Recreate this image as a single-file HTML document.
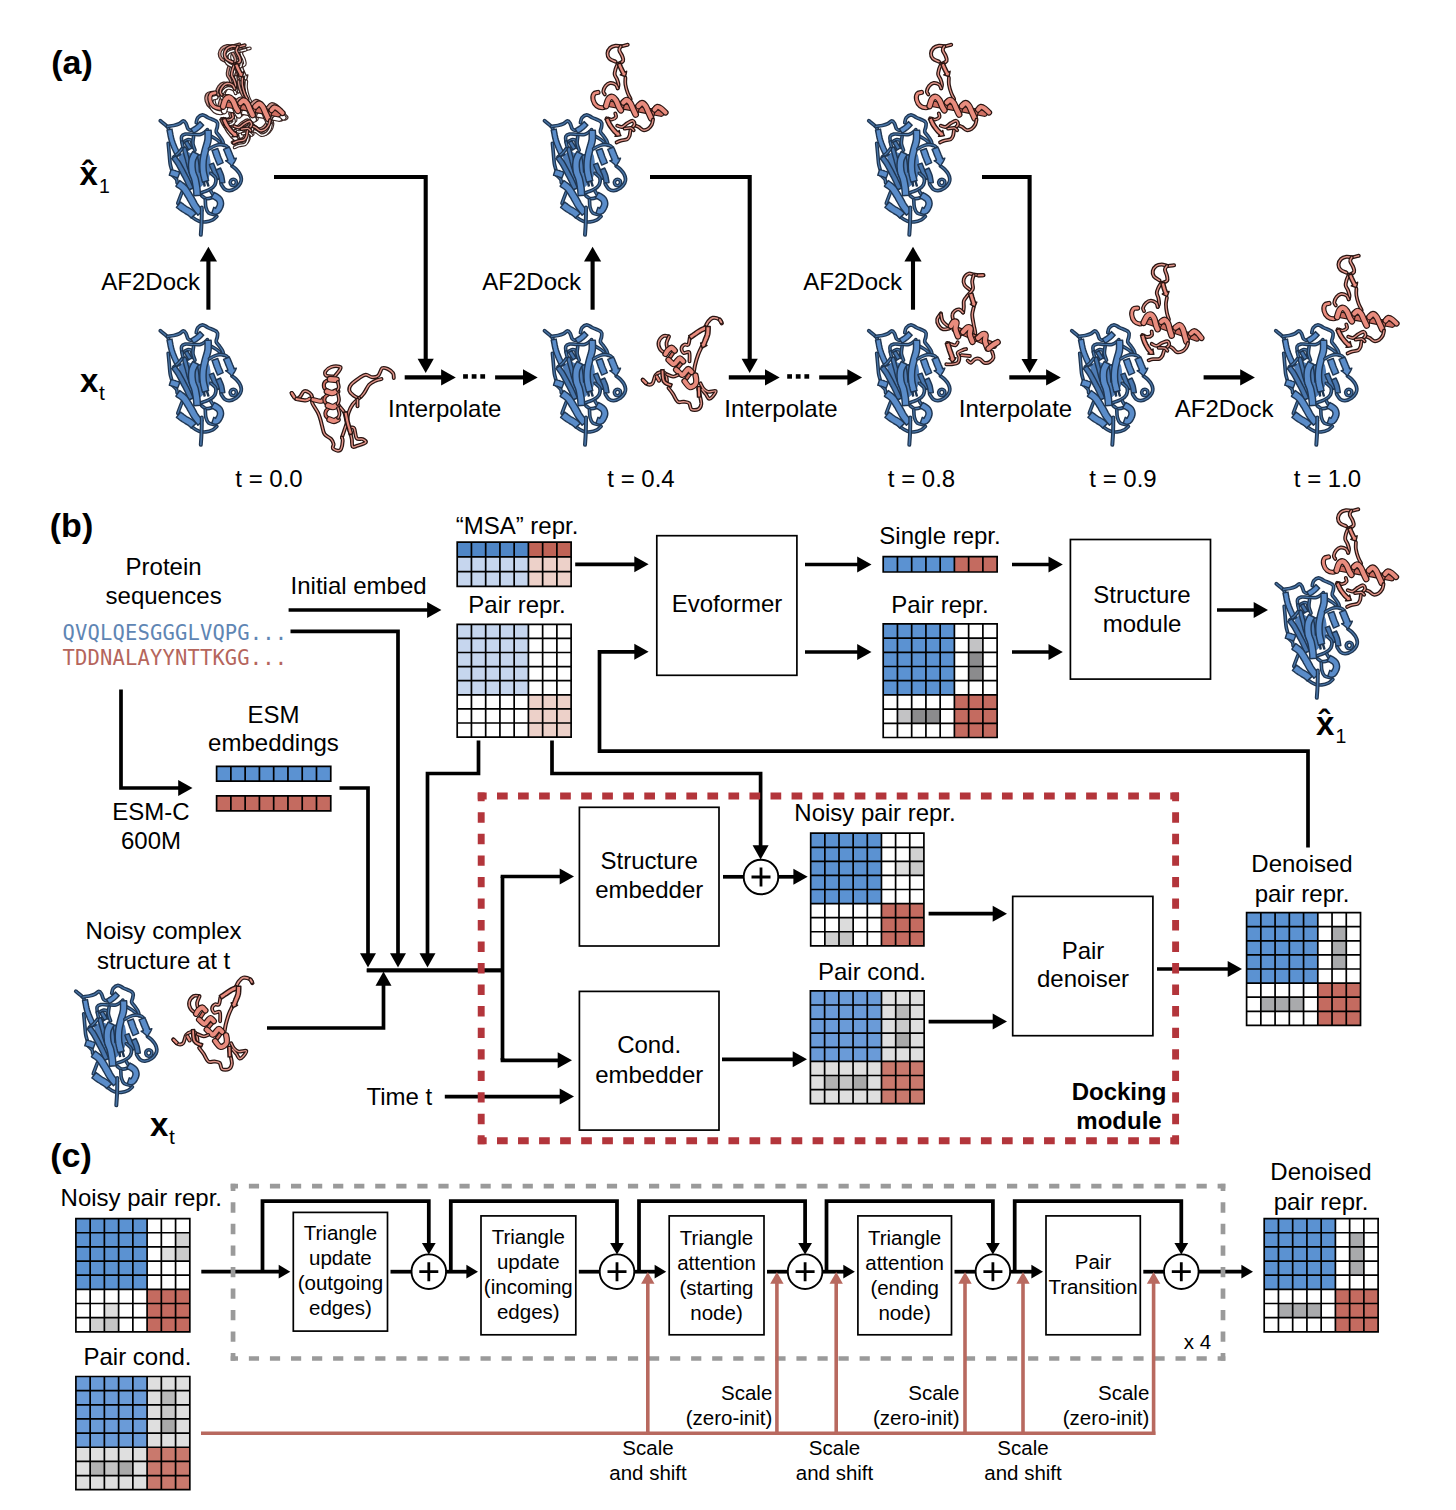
<!DOCTYPE html>
<html lang="en"><head><meta charset="utf-8"><title>AF2Dock overview</title>
<style>html,body{margin:0;padding:0;background:#fff}svg{display:block}</style></head><body>
<svg width="1456" height="1510" viewBox="0 0 1456 1510" font-family="'Liberation Sans', sans-serif" fill="#000">
<rect width="1456" height="1510" fill="#fff"/>
<defs>
<g id="pb" fill="none" stroke-linecap="round" stroke-linejoin="round"><path d="M28.0 50.0C29.0 49.3 32.0 46.3 34.0 46.0C36.0 45.7 37.8 47.3 40.0 48.0C42.2 48.7 44.7 50.3 47.0 50.0C49.3 49.7 52.2 46.0 54.0 46.0C55.8 46.0 57.2 47.3 58.0 50.0C58.8 52.7 59.2 58.3 59.0 62.0C58.8 65.7 58.5 69.0 57.0 72.0C55.5 75.0 52.2 78.0 50.0 80.0C47.8 82.0 46.0 84.7 44.0 84.0C42.0 83.3 40.0 79.3 38.0 76.0C36.0 72.7 33.0 66.0 32.0 64.0Z" fill="#4f7db6" stroke="#4f7db6" stroke-width="1.2"/><path d="M9.3 14.7C10.5 15.7 15.0 19.1 16.5 20.9C18.0 22.7 17.9 23.9 18.5 25.7C19.1 27.5 19.7 30.8 19.9 31.8" stroke="#1f3652" stroke-width="3.8"/><path d="M9.3 14.7C10.5 15.7 15.0 19.1 16.5 20.9C18.0 22.7 17.9 23.9 18.5 25.7C19.1 27.5 19.7 30.8 19.9 31.8" stroke="#4a76a8" stroke-width="1.3"/><path d="M17.2 37.3C17.4 39.0 17.9 44.2 18.2 47.6C18.5 51.0 18.8 55.3 19.2 57.9C19.6 60.5 20.4 62.5 20.6 63.4" stroke="#1f3652" stroke-width="3.7"/><path d="M17.2 37.3C17.4 39.0 17.9 44.2 18.2 47.6C18.5 51.0 18.8 55.3 19.2 57.9C19.6 60.5 20.4 62.5 20.6 63.4" stroke="#4a76a8" stroke-width="1.2"/><path d="M30.9 36.0C30.8 35.1 30.0 31.8 30.6 30.5C31.2 29.2 32.5 28.5 34.3 28.1C36.1 27.8 38.7 28.3 41.2 28.4C43.7 28.4 47.3 28.8 49.5 28.4C51.7 27.9 53.2 26.5 54.3 25.7C55.4 24.9 56.0 24.0 56.3 23.6" stroke="#1f3652" stroke-width="3.7"/><path d="M30.9 36.0C30.8 35.1 30.0 31.8 30.6 30.5C31.2 29.2 32.5 28.5 34.3 28.1C36.1 27.8 38.7 28.3 41.2 28.4C43.7 28.4 47.3 28.8 49.5 28.4C51.7 27.9 53.2 26.5 54.3 25.7C55.4 24.9 56.0 24.0 56.3 23.6" stroke="#4a76a8" stroke-width="1.2"/><path d="M30.9 36.0C31.1 36.9 31.5 40.1 32.3 41.5C33.1 42.9 35.1 43.8 35.7 44.2" stroke="#1f3652" stroke-width="3.7"/><path d="M30.9 36.0C31.1 36.9 31.5 40.1 32.3 41.5C33.1 42.9 35.1 43.8 35.7 44.2" stroke="#4a76a8" stroke-width="1.2"/><path d="M33.7 35.3C34.3 35.0 36.0 33.7 37.1 33.6C38.2 33.5 39.8 33.3 40.5 34.6C41.2 35.9 41.1 40.4 41.2 41.5" stroke="#1f3652" stroke-width="3.7"/><path d="M33.7 35.3C34.3 35.0 36.0 33.7 37.1 33.6C38.2 33.5 39.8 33.3 40.5 34.6C41.2 35.9 41.1 40.4 41.2 41.5" stroke="#4a76a8" stroke-width="1.2"/><path d="M42.6 30.5C42.5 31.6 41.7 35.0 41.9 37.3C42.1 39.6 43.6 43.1 44.0 44.2" stroke="#1f3652" stroke-width="3.7"/><path d="M42.6 30.5C42.5 31.6 41.7 35.0 41.9 37.3C42.1 39.6 43.6 43.1 44.0 44.2" stroke="#4a76a8" stroke-width="1.2"/><path d="M60.4 30.5C61.2 30.9 63.8 32.3 65.2 33.2C66.6 34.1 68.1 35.5 68.7 36.0" stroke="#1f3652" stroke-width="3.7"/><path d="M60.4 30.5C61.2 30.9 63.8 32.3 65.2 33.2C66.6 34.1 68.1 35.5 68.7 36.0" stroke="#4a76a8" stroke-width="1.2"/><path d="M31.1 42.0L31.5 43.3L32.0 45.1L32.6 47.3L33.2 49.5L33.8 51.6L34.4 53.6L34.9 55.7L35.5 57.9L36.0 60.0L36.6 62.0L37.3 64.0L38.0 66.0L38.7 67.9L39.3 69.5L39.7 70.7L43.3 69.3L42.9 68.2L42.3 66.6L41.7 64.7L41.0 62.7L40.4 60.8L39.8 58.9L39.2 56.9L38.7 54.8L38.1 52.6L37.6 50.6L37.0 48.5L36.4 46.2L35.8 44.1L35.2 42.3L34.9 41.0Z" fill="#4876ae" stroke="#1f3652" stroke-width="1.45"/><path d="M46.4 49.3L46.6 50.5L46.9 52.2L47.3 54.2L47.6 56.3L47.8 58.1L48.0 59.9L48.1 61.7L48.2 63.5L48.3 65.0L48.4 66.1L51.8 65.9L51.7 64.8L51.6 63.3L51.5 61.5L51.4 59.6L51.2 57.7L50.9 55.8L50.6 53.7L50.3 51.7L50.0 49.9L49.8 48.7Z" fill="#4876ae" stroke="#1f3652" stroke-width="1.45"/><path d="M60.4 57.9L60.7 58.8L61.2 60.1L61.8 61.6L62.5 63.2L63.2 64.8L63.9 66.6L64.8 68.5L65.6 70.5L66.5 72.1L67.3 73.0L68.0 73.1L68.7 72.5L69.3 71.5L69.8 70.5L70.1 69.9L70.1 69.9L69.7 70.5L69.2 71.4L68.6 72.4L68.0 73.0L67.3 73.0L66.6 72.0L65.7 70.4L64.9 68.5L64.0 66.5L63.2 64.8L62.6 63.2L61.9 61.6L61.3 60.1L60.8 58.8L60.4 57.9Z" fill="#4876ae" stroke="#1f3652" stroke-width="1.45"/><path d="M16.0 24.1L16.3 25.5L16.7 27.5L17.1 29.9L17.6 32.3L18.2 34.6L18.8 36.6L19.5 38.5L20.3 40.4L21.0 42.2L21.7 43.8L22.5 45.5L23.3 47.2L24.1 48.7L24.8 50.0L25.3 50.9L29.7 48.5L29.2 47.6L28.6 46.4L27.8 44.9L27.0 43.3L26.3 41.8L25.6 40.2L24.9 38.5L24.2 36.8L23.6 35.0L23.0 33.2L22.5 31.2L22.0 28.9L21.6 26.6L21.2 24.6L21.0 23.1Z" fill="#5a8cc9" stroke="#1f3652" stroke-width="1.45"/><path d="M33.3 36.7L37.7 43.9L40.9 41.9L36.5 34.7Z" fill="#4876ae" stroke="#1f3652" stroke-width="1.45"/><path d="M22.7 51.1C23.5 50.4 26.1 48.4 27.5 47.0C28.9 45.6 30.3 43.5 30.9 42.8" stroke="#1f3652" stroke-width="3.7"/><path d="M22.7 51.1C23.5 50.4 26.1 48.4 27.5 47.0C28.9 45.6 30.3 43.5 30.9 42.8" stroke="#4a76a8" stroke-width="1.2"/><path d="M20.7 52.6L21.4 53.4L22.3 54.6L23.3 56.0L24.4 57.6L25.4 59.2L26.4 61.0L27.6 63.1L28.7 65.3L29.8 67.4L30.8 69.3L31.7 70.9L32.4 72.3L33.0 73.5L33.6 74.7L34.3 76.0L35.0 77.7L35.8 79.5L36.6 81.3L37.3 82.9L37.7 84.0L42.3 82.0L41.8 80.9L41.1 79.4L40.3 77.5L39.5 75.6L38.7 74.0L38.0 72.5L37.4 71.2L36.7 70.0L36.0 68.6L35.2 67.1L34.2 65.2L33.1 63.0L31.9 60.8L30.7 58.6L29.6 56.6L28.5 54.8L27.3 53.2L26.2 51.7L25.3 50.5L24.7 49.6Z" fill="#4876ae" stroke="#1f3652" stroke-width="1.45"/><path d="M16.5 20.5C17.5 20.3 20.8 19.9 22.7 19.5C24.6 19.1 26.6 18.6 28.2 17.8C29.8 17.1 31.2 15.1 32.3 15.0C33.4 14.9 34.2 16.1 35.0 17.4C35.8 18.7 36.2 21.8 37.1 22.9C38.0 24.0 39.2 24.4 40.5 24.3C41.8 24.2 43.5 23.1 44.6 22.2C45.8 21.3 46.9 19.4 47.4 18.8" stroke="#1f3652" stroke-width="3.8"/><path d="M16.5 20.5C17.5 20.3 20.8 19.9 22.7 19.5C24.6 19.1 26.6 18.6 28.2 17.8C29.8 17.1 31.2 15.1 32.3 15.0C33.4 14.9 34.2 16.1 35.0 17.4C35.8 18.7 36.2 21.8 37.1 22.9C38.0 24.0 39.2 24.4 40.5 24.3C41.8 24.2 43.5 23.1 44.6 22.2C45.8 21.3 46.9 19.4 47.4 18.8" stroke="#4a76a8" stroke-width="1.3"/><path d="M45.3 16.7C45.5 15.9 45.7 13.2 46.7 11.9C47.7 10.6 49.8 8.9 51.5 8.8C53.2 8.8 54.6 10.4 57.0 11.6C59.4 12.8 64.4 14.4 65.9 16.0C67.5 17.6 66.4 19.3 66.3 20.9C66.2 22.5 64.8 24.1 65.2 25.7C65.6 27.3 67.7 29.0 68.7 30.5C69.7 32.0 70.7 33.1 71.4 34.6C72.1 36.1 72.6 38.6 72.8 39.4" stroke="#1f3652" stroke-width="3.8"/><path d="M45.3 16.7C45.5 15.9 45.7 13.2 46.7 11.9C47.7 10.6 49.8 8.9 51.5 8.8C53.2 8.8 54.6 10.4 57.0 11.6C59.4 12.8 64.4 14.4 65.9 16.0C67.5 17.6 66.4 19.3 66.3 20.9C66.2 22.5 64.8 24.1 65.2 25.7C65.6 27.3 67.7 29.0 68.7 30.5C69.7 32.0 70.7 33.1 71.4 34.6C72.1 36.1 72.6 38.6 72.8 39.4" stroke="#4a76a8" stroke-width="1.3"/><path d="M42.5 27.2L43.3 26.7L44.4 26.1L45.7 25.3L47.0 24.4L48.3 23.5L49.4 22.5L50.5 21.5L51.4 20.5L52.1 19.7L52.7 19.2L48.9 15.6L48.4 16.2L47.7 17.0L46.8 17.9L45.9 18.8L45.1 19.5L44.2 20.2L43.0 21.0L41.8 21.7L40.7 22.3L39.9 22.8Z" fill="#5a8cc9" stroke="#1f3652" stroke-width="1.45"/><path d="M20.6 68.5C21.4 69.3 24.5 71.9 25.4 73.3C26.3 74.7 26.0 76.1 26.1 76.7" stroke="#1f3652" stroke-width="3.7"/><path d="M20.6 68.5C21.4 69.3 24.5 71.9 25.4 73.3C26.3 74.7 26.0 76.1 26.1 76.7" stroke="#4a76a8" stroke-width="1.2"/><path d="M18.3 69.2L18.9 69.4L19.8 69.6L20.7 69.9L21.7 70.2L22.5 70.5L23.4 70.8L24.4 71.2L25.3 71.5L26.1 71.8L26.7 72.1L28.9 66.3L28.3 66.1L27.5 65.8L26.5 65.4L25.5 65.1L24.5 64.7L23.5 64.4L22.4 64.1L21.5 63.8L20.6 63.5L20.1 63.4Z" fill="#5a8cc9" stroke="#1f3652" stroke-width="1.45"/><path d="M30.9 86.4C30.5 87.3 29.5 90.0 28.8 91.8C28.1 93.6 27.1 96.4 26.8 97.3" stroke="#1f3652" stroke-width="3.7"/><path d="M30.9 86.4C30.5 87.3 29.5 90.0 28.8 91.8C28.1 93.6 27.1 96.4 26.8 97.3" stroke="#4a76a8" stroke-width="1.2"/><path d="M58.4 58.7L58.7 59.6L59.2 60.9L59.8 62.4L60.5 64.1L61.2 65.7L62.0 67.5L63.0 69.4L63.9 71.2L64.8 72.9L65.3 74.0L69.3 72.0L68.7 70.9L67.9 69.2L66.9 67.4L66.0 65.5L65.2 63.9L64.5 62.4L63.9 60.8L63.3 59.3L62.8 58.0L62.4 57.1Z" fill="#4876ae" stroke="#1f3652" stroke-width="1.45"/><path d="M65.1 64.0L65.5 64.9L66.0 66.2L66.7 67.7L67.3 69.2L67.7 70.6L68.1 71.9L68.4 73.5L68.6 75.0L68.8 76.4L69.0 77.4L73.8 76.6L73.7 75.7L73.5 74.3L73.2 72.6L72.9 70.9L72.5 69.2L71.9 67.5L71.2 65.9L70.5 64.3L69.9 62.9L69.5 62.0Z" fill="#4876ae" stroke="#1f3652" stroke-width="1.45"/><path d="M81.0 60.0C81.7 60.6 83.9 62.0 85.2 63.4C86.5 64.8 88.1 66.6 88.9 68.2C89.8 69.8 90.2 71.5 90.3 73.0C90.4 74.5 90.2 75.5 89.4 77.0C88.6 78.5 87.0 80.7 85.2 82.0C83.4 83.3 80.5 84.4 78.5 84.6C76.5 84.8 74.9 84.0 73.5 82.9C72.1 81.8 70.7 78.9 70.1 78.1" stroke="#1f3652" stroke-width="3.8"/><path d="M81.0 60.0C81.7 60.6 83.9 62.0 85.2 63.4C86.5 64.8 88.1 66.6 88.9 68.2C89.8 69.8 90.2 71.5 90.3 73.0C90.4 74.5 90.2 75.5 89.4 77.0C88.6 78.5 87.0 80.7 85.2 82.0C83.4 83.3 80.5 84.4 78.5 84.6C76.5 84.8 74.9 84.0 73.5 82.9C72.1 81.8 70.7 78.9 70.1 78.1" stroke="#4a76a8" stroke-width="1.3"/><path d="M85.4 76.4C85.2 76.8 84.9 78.5 84.2 79.0C83.5 79.5 82.2 79.8 81.4 79.6C80.6 79.3 79.7 78.3 79.4 77.5C79.1 76.7 79.3 75.3 79.8 74.6C80.3 73.9 81.6 73.3 82.4 73.3C83.2 73.3 84.3 73.9 84.8 74.4C85.3 74.9 85.3 76.1 85.4 76.4" stroke="#1f3652" stroke-width="3.6"/><path d="M85.4 76.4C85.2 76.8 84.9 78.5 84.2 79.0C83.5 79.5 82.2 79.8 81.4 79.6C80.6 79.3 79.7 78.3 79.4 77.5C79.1 76.7 79.3 75.3 79.8 74.6C80.3 73.9 81.6 73.3 82.4 73.3C83.2 73.3 84.3 73.9 84.8 74.4C85.3 74.9 85.3 76.1 85.4 76.4" stroke="#4a76a8" stroke-width="1.1"/><path d="M59.8 67.1C60.6 67.9 63.9 70.0 64.6 71.9C65.3 73.9 64.9 76.8 63.9 78.8C62.9 80.8 60.8 82.2 58.4 83.6C56.0 85.0 51.0 86.4 49.5 87.0" stroke="#1f3652" stroke-width="3.7"/><path d="M59.8 67.1C60.6 67.9 63.9 70.0 64.6 71.9C65.3 73.9 64.9 76.8 63.9 78.8C62.9 80.8 60.8 82.2 58.4 83.6C56.0 85.0 51.0 86.4 49.5 87.0" stroke="#4a76a8" stroke-width="1.2"/><path d="M50.8 89.8C51.5 90.2 53.3 92.2 54.9 92.5C56.5 92.8 59.0 92.4 60.4 91.8C61.8 91.2 62.7 89.5 63.2 89.1" stroke="#1f3652" stroke-width="3.7"/><path d="M50.8 89.8C51.5 90.2 53.3 92.2 54.9 92.5C56.5 92.8 59.0 92.4 60.4 91.8C61.8 91.2 62.7 89.5 63.2 89.1" stroke="#4a76a8" stroke-width="1.2"/><path d="M59.8 85.0L61.8 88.4" stroke="#1f3652" stroke-width="3.7"/><path d="M59.8 85.0L61.8 88.4" stroke="#4a76a8" stroke-width="1.2"/><path d="M54.3 93.9C54.4 95.2 54.3 99.3 54.9 101.5C55.5 103.7 56.1 105.8 57.7 107.0C59.3 108.2 63.4 108.7 64.6 109.0" stroke="#1f3652" stroke-width="3.7"/><path d="M54.3 93.9C54.4 95.2 54.3 99.3 54.9 101.5C55.5 103.7 56.1 105.8 57.7 107.0C59.3 108.2 63.4 108.7 64.6 109.0" stroke="#4a76a8" stroke-width="1.2"/><path d="M65.9 110.4C65.2 111.0 63.6 112.9 61.8 113.8C60.0 114.7 57.2 115.7 54.9 115.9C52.6 116.1 50.4 116.0 48.1 115.2C45.8 114.4 42.8 112.4 41.2 111.1C39.6 109.8 39.0 108.2 38.5 107.6" stroke="#1f3652" stroke-width="3.7"/><path d="M65.9 110.4C65.2 111.0 63.6 112.9 61.8 113.8C60.0 114.7 57.2 115.7 54.9 115.9C52.6 116.1 50.4 116.0 48.1 115.2C45.8 114.4 42.8 112.4 41.2 111.1C39.6 109.8 39.0 108.2 38.5 107.6" stroke="#4a76a8" stroke-width="1.2"/><path d="M52.1 74.1L53.1 80.1L54.1 79.9L53.1 73.9Z" fill="#4876ae" stroke="#1f3652" stroke-width="1.45"/><path d="M55.1 74.1L56.9 80.1L57.9 79.9L56.1 73.9Z" fill="#4876ae" stroke="#1f3652" stroke-width="1.45"/><path d="M41.7 45.5L41.2 46.4L40.4 47.8L39.5 49.5L38.6 51.6L38.0 53.8L37.7 56.1L37.5 58.4L37.5 60.8L37.7 63.1L37.9 65.3L38.4 67.5L39.1 69.4L39.8 71.2L40.4 72.7L40.8 74.2L41.2 75.8L41.5 77.5L41.8 79.3L42.1 81.0L42.3 82.6L42.5 84.2L42.7 85.8L42.8 87.4L42.8 88.7L42.9 89.7L49.5 89.3L49.4 88.3L49.3 87.0L49.2 85.3L49.1 83.5L48.9 81.8L48.6 80.0L48.3 78.2L48.0 76.3L47.6 74.4L47.2 72.4L46.6 70.5L45.9 68.7L45.3 67.2L44.8 65.7L44.5 64.3L44.3 62.5L44.1 60.6L44.1 58.6L44.2 56.7L44.4 55.2L44.8 53.8L45.5 52.4L46.2 50.9L47.0 49.6L47.5 48.5Z" fill="#5a8cc9" stroke="#1f3652" stroke-width="1.45"/><path d="M53.9 24.4L53.9 25.7L54.0 27.5L54.0 29.6L54.0 31.6L53.9 33.5L53.5 35.2L53.1 37.1L52.4 39.1L51.8 41.3L51.2 43.4L50.7 45.5L50.2 47.6L49.8 49.8L49.4 51.9L49.1 54.2L48.9 56.5L48.8 58.8L48.8 61.0L48.9 63.1L49.1 65.1L49.3 66.9L49.6 68.6L49.9 70.1L50.3 71.4L50.5 72.4L50.8 73.5L51.0 74.4L51.3 75.2L51.4 75.8L51.6 76.3L57.6 74.5L57.5 74.1L57.3 73.5L57.1 72.8L56.9 71.9L56.7 71.0L56.4 69.8L56.1 68.6L55.8 67.3L55.5 66.0L55.3 64.5L55.2 62.8L55.1 60.9L55.1 58.8L55.2 56.8L55.3 54.8L55.6 52.9L55.9 51.0L56.4 49.0L56.9 47.0L57.4 45.0L57.9 43.0L58.5 40.9L59.1 38.8L59.7 36.6L60.1 34.3L60.3 31.9L60.3 29.5L60.3 27.3L60.2 25.5L60.1 24.2Z" fill="#5a8cc9" stroke="#1f3652" stroke-width="1.45"/><path d="M58.4 42.8C59.2 42.3 61.5 40.8 63.2 40.1C64.9 39.4 66.9 38.8 68.7 38.7C70.5 38.6 72.8 38.9 74.2 39.4C75.6 39.9 76.5 41.1 76.9 41.5" stroke="#1f3652" stroke-width="3.7"/><path d="M58.4 42.8C59.2 42.3 61.5 40.8 63.2 40.1C64.9 39.4 66.9 38.8 68.7 38.7C70.5 38.6 72.8 38.9 74.2 39.4C75.6 39.9 76.5 41.1 76.9 41.5" stroke="#4a76a8" stroke-width="1.2"/><path d="M61.0 44.5L61.4 45.5L61.9 47.0L62.5 48.8L63.1 50.6L63.8 52.2L64.4 53.8L65.0 55.4L65.7 56.9L66.2 58.2L66.6 59.1L72.2 56.7L71.8 55.8L71.3 54.5L70.7 53.0L70.0 51.5L69.4 50.0L68.9 48.5L68.3 46.7L67.7 45.0L67.1 43.5L66.8 42.5Z" fill="#5a8cc9" stroke="#1f3652" stroke-width="1.45"/><path d="M24.9 80.2L25.7 80.8L26.9 81.6L28.2 82.5L29.5 83.5L30.5 84.5L31.4 85.7L32.4 87.1L33.4 88.7L34.5 90.5L35.6 92.2L36.6 94.1L37.7 96.0L38.8 98.0L40.0 100.1L41.2 102.0L42.5 103.8L43.8 105.5L45.1 107.1L46.2 108.3L46.9 109.2L52.1 104.8L51.3 103.9L50.3 102.7L49.1 101.2L47.9 99.7L46.8 98.2L45.8 96.6L44.8 94.7L43.7 92.7L42.6 90.7L41.4 88.8L40.3 86.9L39.2 85.1L38.1 83.3L36.9 81.6L35.5 79.9L34.0 78.4L32.3 77.1L30.8 76.0L29.6 75.2L28.7 74.6Z" fill="#5a8cc9" stroke="#1f3652" stroke-width="1.45"/><path d="M25.4 101.4L26.2 102.0L27.2 102.7L28.4 103.7L29.7 104.7L31.1 105.6L32.6 106.5L34.1 107.5L35.6 108.3L36.9 109.1L37.8 109.8L38.5 110.3L38.9 110.7L39.4 111.2L39.7 111.6L40.1 112.0L45.1 107.4L44.8 107.1L44.4 106.6L43.7 105.9L42.9 105.1L41.8 104.2L40.5 103.4L39.1 102.5L37.6 101.6L36.1 100.8L34.9 100.0L33.7 99.2L32.5 98.2L31.3 97.3L30.3 96.6L29.6 96.0Z" fill="#5a8cc9" stroke="#1f3652" stroke-width="1.45"/><path d="M60.3 91.7L61.2 92.3L62.6 93.0L63.9 93.8L65.1 94.6L65.7 95.2L66.0 95.7L66.3 96.3L66.4 96.9L66.5 97.5L66.4 98.1L66.2 99.0L65.7 100.1L65.0 101.3L64.4 102.1L64.2 102.4L64.7 102.2L64.8 102.1L64.3 101.9L63.5 101.6L62.8 101.3L60.8 107.1L61.2 107.2L62.1 107.6L63.4 108.1L65.4 108.2L67.6 107.4L69.1 106.0L70.2 104.5L71.1 102.8L71.9 101.1L72.4 99.3L72.6 97.6L72.4 95.9L72.0 94.3L71.3 92.7L70.3 91.2L68.9 89.8L67.2 88.7L65.6 87.7L64.2 87.0L63.3 86.5Z" fill="#5a8cc9" stroke="#1f3652" stroke-width="1.45"/><path d="M72.6 43.4L73.0 44.4L73.6 45.7L74.2 47.3L74.8 48.9L75.4 50.2L75.8 51.2L76.2 52.1L76.5 52.8L76.7 53.5L76.9 54.2L74.7 54.8L76.0 55.5L77.4 56.7L78.9 58.0L80.1 59.2L81.0 60.0L81.0 60.0L81.6 59.0L82.5 57.5L83.6 55.8L84.6 54.0L85.3 52.2L83.1 52.8L82.7 51.6L82.4 50.5L82.0 49.6L81.6 48.8L81.2 47.8L80.7 46.5L80.0 44.9L79.4 43.3L78.8 42.0L78.4 41.0Z" fill="#5a8cc9" stroke="#1f3652" stroke-width="1.45"/><path d="M50.8 101.5C50.8 104.2 50.7 113.4 50.5 117.9C50.3 122.5 49.9 127.0 49.8 128.8" stroke="#1f3652" stroke-width="4.0"/><path d="M50.8 101.5C50.8 104.2 50.7 113.4 50.5 117.9C50.3 122.5 49.9 127.0 49.8 128.8" stroke="#4a76a8" stroke-width="1.5"/></g>
<g id="pd" fill="none" stroke-linecap="round" stroke-linejoin="round"><path d="M42.7 9.7C41.7 9.9 38.6 11.0 36.6 11.2C34.6 11.4 32.4 10.4 30.5 10.7C28.6 11.0 26.4 11.7 25.1 13.0C23.8 14.3 22.6 16.5 22.5 18.3C22.4 20.1 23.1 22.2 24.4 23.6C25.7 25.0 29.5 26.2 30.5 26.7" stroke="#2a1512" stroke-width="4.0"/><path d="M42.7 9.7C41.7 9.9 38.6 11.0 36.6 11.2C34.6 11.4 32.4 10.4 30.5 10.7C28.6 11.0 26.4 11.7 25.1 13.0C23.8 14.3 22.6 16.5 22.5 18.3C22.4 20.1 23.1 22.2 24.4 23.6C25.7 25.0 29.5 26.2 30.5 26.7" stroke="#e2968b" stroke-width="1.5"/><path d="M35.8 11.4C35.5 12.0 34.0 13.5 34.3 15.2C34.5 16.8 36.7 19.5 37.3 21.3C37.9 23.1 38.7 24.6 38.1 25.9C37.5 27.2 34.3 28.4 33.5 28.9" stroke="#2a1512" stroke-width="4.0"/><path d="M35.8 11.4C35.5 12.0 34.0 13.5 34.3 15.2C34.5 16.8 36.7 19.5 37.3 21.3C37.9 23.1 38.7 24.6 38.1 25.9C37.5 27.2 34.3 28.4 33.5 28.9" stroke="#e2968b" stroke-width="1.5"/><path d="M32.7 28.9C32.3 29.8 31.0 32.5 30.5 34.3C30.0 36.1 29.4 38.0 29.7 39.6C29.9 41.2 31.4 42.6 32.0 44.2C32.6 45.9 33.4 48.0 33.5 49.5C33.6 51.0 32.8 52.7 32.7 53.3" stroke="#2a1512" stroke-width="3.9"/><path d="M32.7 28.9C32.3 29.8 31.0 32.5 30.5 34.3C30.0 36.1 29.4 38.0 29.7 39.6C29.9 41.2 31.4 42.6 32.0 44.2C32.6 45.9 33.4 48.0 33.5 49.5C33.6 51.0 32.8 52.7 32.7 53.3" stroke="#e2968b" stroke-width="1.4"/><path d="M32.2 29.2L32.6 30.1L33.1 31.3L33.7 32.8L34.4 34.4L35.1 35.8L35.9 37.4L36.8 39.0L35.3 39.8L37.5 40.6L39.3 41.3L40.6 41.8L40.6 41.8L40.8 40.4L41.2 38.5L41.6 36.3L40.1 37.1L39.2 35.5L38.5 34.2L37.9 32.8L37.2 31.3L36.6 29.9L36.1 28.7L35.8 27.8Z" fill="#e98c7e" stroke="#2a1512" stroke-width="1.45"/><path d="M40.4 42.7C40.4 43.8 40.0 47.0 40.4 49.5C40.8 52.0 41.8 55.5 42.7 57.9C43.6 60.3 45.2 63.0 45.7 64.0" stroke="#2a1512" stroke-width="3.8"/><path d="M40.4 42.7C40.4 43.8 40.0 47.0 40.4 49.5C40.8 52.0 41.8 55.5 42.7 57.9C43.6 60.3 45.2 63.0 45.7 64.0" stroke="#e2968b" stroke-width="1.3"/><path d="M32.7 53.3C32.3 52.7 31.8 50.4 30.5 49.5C29.2 48.6 26.8 47.8 25.1 48.0C23.5 48.2 21.7 49.6 20.6 51.0C19.5 52.4 18.4 55.0 18.3 56.4C18.2 57.8 19.6 58.9 19.8 59.4" stroke="#2a1512" stroke-width="3.9"/><path d="M32.7 53.3C32.3 52.7 31.8 50.4 30.5 49.5C29.2 48.6 26.8 47.8 25.1 48.0C23.5 48.2 21.7 49.6 20.6 51.0C19.5 52.4 18.4 55.0 18.3 56.4C18.2 57.8 19.6 58.9 19.8 59.4" stroke="#e2968b" stroke-width="1.4"/><path d="M25.0 69.0C29.2 69.8 41.5 71.9 50.0 73.5C58.5 75.1 71.7 77.7 76.0 78.5" stroke="#2a1512" stroke-width="6.8"/><path d="M25.0 69.0C29.2 69.8 41.5 71.9 50.0 73.5C58.5 75.1 71.7 77.7 76.0 78.5" stroke="#cf6f62" stroke-width="4.5"/><path d="M35.9 75.0C36.1 74.2 36.6 71.5 37.2 70.0C37.8 68.5 39.1 66.7 39.5 66.0" stroke="#2a1512" stroke-width="5.3"/><path d="M35.9 75.0C36.1 74.2 36.6 71.5 37.2 70.0C37.8 68.5 39.1 66.7 39.5 66.0" stroke="#cf6f62" stroke-width="3.0"/><path d="M50.7 79.3C51.0 78.3 51.5 75.1 52.2 73.5C52.9 71.9 54.4 70.2 54.8 69.5" stroke="#2a1512" stroke-width="5.3"/><path d="M50.7 79.3C51.0 78.3 51.5 75.1 52.2 73.5C52.9 71.9 54.4 70.2 54.8 69.5" stroke="#cf6f62" stroke-width="3.0"/><path d="M66.2 83.0C66.5 82.0 67.1 78.7 67.8 77.0C68.5 75.3 70.0 73.7 70.4 73.0" stroke="#2a1512" stroke-width="5.3"/><path d="M66.2 83.0C66.5 82.0 67.1 78.7 67.8 77.0C68.5 75.3 70.0 73.7 70.4 73.0" stroke="#cf6f62" stroke-width="3.0"/><path d="M13.0 57.4C12.3 57.6 9.7 57.6 8.9 58.8C8.1 60.0 7.6 62.8 8.1 64.8C8.6 66.8 10.2 69.7 11.8 71.0C13.4 72.3 15.8 72.8 17.4 72.8C18.9 72.8 20.5 71.3 21.1 71.0" stroke="#2a1512" stroke-width="5.1"/><path d="M13.0 57.4C12.3 57.6 9.7 57.6 8.9 58.8C8.1 60.0 7.6 62.8 8.1 64.8C8.6 66.8 10.2 69.7 11.8 71.0C13.4 72.3 15.8 72.8 17.4 72.8C18.9 72.8 20.5 71.3 21.1 71.0" stroke="#e98c7e" stroke-width="2.8"/><path d="M21.1 71.0C21.5 69.8 22.5 65.5 23.5 64.0C24.5 62.5 25.9 61.7 27.2 61.9C28.4 62.1 29.9 63.7 31.0 65.4C32.1 67.1 33.2 70.6 34.0 72.2C34.8 73.8 35.6 74.8 35.9 75.3" stroke="#2a1512" stroke-width="6.6"/><path d="M21.1 71.0C21.5 69.8 22.5 65.5 23.5 64.0C24.5 62.5 25.9 61.7 27.2 61.9C28.4 62.1 29.9 63.7 31.0 65.4C32.1 67.1 33.2 70.6 34.0 72.2C34.8 73.8 35.6 74.8 35.9 75.3" stroke="#e98c7e" stroke-width="4.3"/><path d="M38.4 67.4C38.9 67.0 40.4 64.9 41.5 65.0C42.6 65.1 44.1 66.3 45.2 67.9C46.3 69.5 47.4 72.8 48.3 74.7C49.2 76.7 50.3 78.8 50.7 79.6" stroke="#2a1512" stroke-width="6.6"/><path d="M38.4 67.4C38.9 67.0 40.4 64.9 41.5 65.0C42.6 65.1 44.1 66.3 45.2 67.9C46.3 69.5 47.4 72.8 48.3 74.7C49.2 76.7 50.3 78.8 50.7 79.6" stroke="#e98c7e" stroke-width="4.3"/><path d="M53.4 71.0C54.0 70.5 55.7 68.1 56.9 68.1C58.1 68.1 59.5 69.4 60.6 71.0C61.7 72.6 62.8 75.8 63.7 77.8C64.6 79.8 65.8 82.4 66.2 83.3" stroke="#2a1512" stroke-width="6.6"/><path d="M53.4 71.0C54.0 70.5 55.7 68.1 56.9 68.1C58.1 68.1 59.5 69.4 60.6 71.0C61.7 72.6 62.8 75.8 63.7 77.8C64.6 79.8 65.8 82.4 66.2 83.3" stroke="#e98c7e" stroke-width="4.3"/><path d="M69.5 74.7C70.0 74.2 71.3 72.0 72.4 71.8C73.5 71.6 74.7 72.4 76.1 73.4C77.5 74.4 79.8 76.9 80.6 77.6" stroke="#2a1512" stroke-width="6.1"/><path d="M69.5 74.7C70.0 74.2 71.3 72.0 72.4 71.8C73.5 71.6 74.7 72.4 76.1 73.4C77.5 74.4 79.8 76.9 80.6 77.6" stroke="#e98c7e" stroke-width="3.8"/><path d="M68.0 84.6C67.8 85.4 67.6 88.0 66.8 89.5C66.0 91.0 64.5 92.9 63.1 93.8C61.7 94.7 59.8 95.4 58.2 95.1C56.7 94.8 55.0 92.7 53.8 92.0C52.5 91.3 51.2 90.9 50.7 90.7" stroke="#2a1512" stroke-width="3.9"/><path d="M68.0 84.6C67.8 85.4 67.6 88.0 66.8 89.5C66.0 91.0 64.5 92.9 63.1 93.8C61.7 94.7 59.8 95.4 58.2 95.1C56.7 94.8 55.0 92.7 53.8 92.0C52.5 91.3 51.2 90.9 50.7 90.7" stroke="#e2968b" stroke-width="1.4"/><path d="M30.3 78.4C30.4 79.0 31.6 81.1 31.0 82.1C30.4 83.1 28.2 84.4 26.6 84.6C25.1 84.8 22.5 83.5 21.7 83.3" stroke="#2a1512" stroke-width="3.9"/><path d="M30.3 78.4C30.4 79.0 31.6 81.1 31.0 82.1C30.4 83.1 28.2 84.4 26.6 84.6C25.1 84.8 22.5 83.5 21.7 83.3" stroke="#e2968b" stroke-width="1.4"/><path d="M32.2 90.7C33.0 90.9 35.5 92.4 37.1 92.0C38.8 91.6 40.4 89.3 42.1 88.3C43.9 87.3 46.4 85.6 47.6 85.8C48.8 86.0 49.8 88.1 49.5 89.5C49.2 90.9 46.6 92.6 45.8 94.4C45.0 96.2 45.2 98.9 44.6 100.6C44.0 102.2 43.6 103.5 42.1 104.3C40.6 105.1 37.6 105.1 35.9 105.6C34.1 106.1 32.3 107.1 31.6 107.4" stroke="#2a1512" stroke-width="3.9"/><path d="M32.2 90.7C33.0 90.9 35.5 92.4 37.1 92.0C38.8 91.6 40.4 89.3 42.1 88.3C43.9 87.3 46.4 85.6 47.6 85.8C48.8 86.0 49.8 88.1 49.5 89.5C49.2 90.9 46.6 92.6 45.8 94.4C45.0 96.2 45.2 98.9 44.6 100.6C44.0 102.2 43.6 103.5 42.1 104.3C40.6 105.1 37.6 105.1 35.9 105.6C34.1 106.1 32.3 107.1 31.6 107.4" stroke="#e2968b" stroke-width="1.4"/><path d="M39.6 93.7C40.6 93.6 44.2 92.7 45.7 92.9C47.2 93.2 48.2 94.8 48.7 95.2" stroke="#2a1512" stroke-width="3.8"/><path d="M39.6 93.7C40.6 93.6 44.2 92.7 45.7 92.9C47.2 93.2 48.2 94.8 48.7 95.2" stroke="#e2968b" stroke-width="1.3"/><path d="M19.9 84.1L20.4 85.1L21.0 86.6L21.8 88.3L22.7 90.1L23.7 91.8L24.8 93.3L26.0 94.9L27.2 96.4L28.4 97.8L29.7 99.0L30.9 100.0L30.0 101.3L31.9 101.3L33.6 101.1L35.0 100.8L35.9 100.6L35.9 100.6L35.5 99.7L35.0 98.5L34.5 97.0L34.3 95.5L33.3 96.8L32.3 96.0L31.4 95.0L30.2 93.8L29.1 92.4L28.0 91.0L27.1 89.6L26.2 88.2L25.4 86.5L24.6 84.9L24.0 83.5L23.5 82.5Z" fill="#e98c7e" stroke="#2a1512" stroke-width="1.45"/></g>
<g id="pg" fill="none" stroke-linecap="round" stroke-linejoin="round"><path d="M42.7 9.7C41.7 9.9 38.6 11.0 36.6 11.2C34.6 11.4 32.4 10.4 30.5 10.7C28.6 11.0 26.4 11.7 25.1 13.0C23.8 14.3 22.6 16.5 22.5 18.3C22.4 20.1 23.1 22.2 24.4 23.6C25.7 25.0 29.5 26.2 30.5 26.7" stroke="#3b2623" stroke-width="3.8"/><path d="M42.7 9.7C41.7 9.9 38.6 11.0 36.6 11.2C34.6 11.4 32.4 10.4 30.5 10.7C28.6 11.0 26.4 11.7 25.1 13.0C23.8 14.3 22.6 16.5 22.5 18.3C22.4 20.1 23.1 22.2 24.4 23.6C25.7 25.0 29.5 26.2 30.5 26.7" stroke="#ffffff" stroke-width="1.5"/><path d="M35.8 11.4C35.5 12.0 34.0 13.5 34.3 15.2C34.5 16.8 36.7 19.5 37.3 21.3C37.9 23.1 38.7 24.6 38.1 25.9C37.5 27.2 34.3 28.4 33.5 28.9" stroke="#3b2623" stroke-width="3.8"/><path d="M35.8 11.4C35.5 12.0 34.0 13.5 34.3 15.2C34.5 16.8 36.7 19.5 37.3 21.3C37.9 23.1 38.7 24.6 38.1 25.9C37.5 27.2 34.3 28.4 33.5 28.9" stroke="#ffffff" stroke-width="1.5"/><path d="M32.7 28.9C32.3 29.8 31.0 32.5 30.5 34.3C30.0 36.1 29.4 38.0 29.7 39.6C29.9 41.2 31.4 42.6 32.0 44.2C32.6 45.9 33.4 48.0 33.5 49.5C33.6 51.0 32.8 52.7 32.7 53.3" stroke="#3b2623" stroke-width="3.7"/><path d="M32.7 28.9C32.3 29.8 31.0 32.5 30.5 34.3C30.0 36.1 29.4 38.0 29.7 39.6C29.9 41.2 31.4 42.6 32.0 44.2C32.6 45.9 33.4 48.0 33.5 49.5C33.6 51.0 32.8 52.7 32.7 53.3" stroke="#ffffff" stroke-width="1.4"/><path d="M32.2 29.2L32.6 30.1L33.1 31.3L33.7 32.8L34.4 34.4L35.1 35.8L35.9 37.4L36.8 39.0L35.3 39.8L37.5 40.6L39.3 41.3L40.6 41.8L40.6 41.8L40.8 40.4L41.2 38.5L41.6 36.3L40.1 37.1L39.2 35.5L38.5 34.2L37.9 32.8L37.2 31.3L36.6 29.9L36.1 28.7L35.8 27.8Z" fill="#ffffff" stroke="#3b2623" stroke-width="1.40"/><path d="M40.4 42.7C40.4 43.8 40.0 47.0 40.4 49.5C40.8 52.0 41.8 55.5 42.7 57.9C43.6 60.3 45.2 63.0 45.7 64.0" stroke="#3b2623" stroke-width="3.6"/><path d="M40.4 42.7C40.4 43.8 40.0 47.0 40.4 49.5C40.8 52.0 41.8 55.5 42.7 57.9C43.6 60.3 45.2 63.0 45.7 64.0" stroke="#ffffff" stroke-width="1.3"/><path d="M32.7 53.3C32.3 52.7 31.8 50.4 30.5 49.5C29.2 48.6 26.8 47.8 25.1 48.0C23.5 48.2 21.7 49.6 20.6 51.0C19.5 52.4 18.4 55.0 18.3 56.4C18.2 57.8 19.6 58.9 19.8 59.4" stroke="#3b2623" stroke-width="3.7"/><path d="M32.7 53.3C32.3 52.7 31.8 50.4 30.5 49.5C29.2 48.6 26.8 47.8 25.1 48.0C23.5 48.2 21.7 49.6 20.6 51.0C19.5 52.4 18.4 55.0 18.3 56.4C18.2 57.8 19.6 58.9 19.8 59.4" stroke="#ffffff" stroke-width="1.4"/><path d="M25.0 69.0C29.2 69.8 41.5 71.9 50.0 73.5C58.5 75.1 71.7 77.7 76.0 78.5" stroke="#3b2623" stroke-width="6.8"/><path d="M25.0 69.0C29.2 69.8 41.5 71.9 50.0 73.5C58.5 75.1 71.7 77.7 76.0 78.5" stroke="#ffffff" stroke-width="4.5"/><path d="M35.9 75.0C36.1 74.2 36.6 71.5 37.2 70.0C37.8 68.5 39.1 66.7 39.5 66.0" stroke="#3b2623" stroke-width="5.3"/><path d="M35.9 75.0C36.1 74.2 36.6 71.5 37.2 70.0C37.8 68.5 39.1 66.7 39.5 66.0" stroke="#ffffff" stroke-width="3.0"/><path d="M50.7 79.3C51.0 78.3 51.5 75.1 52.2 73.5C52.9 71.9 54.4 70.2 54.8 69.5" stroke="#3b2623" stroke-width="5.3"/><path d="M50.7 79.3C51.0 78.3 51.5 75.1 52.2 73.5C52.9 71.9 54.4 70.2 54.8 69.5" stroke="#ffffff" stroke-width="3.0"/><path d="M66.2 83.0C66.5 82.0 67.1 78.7 67.8 77.0C68.5 75.3 70.0 73.7 70.4 73.0" stroke="#3b2623" stroke-width="5.3"/><path d="M66.2 83.0C66.5 82.0 67.1 78.7 67.8 77.0C68.5 75.3 70.0 73.7 70.4 73.0" stroke="#ffffff" stroke-width="3.0"/><path d="M13.0 57.4C12.3 57.6 9.7 57.6 8.9 58.8C8.1 60.0 7.6 62.8 8.1 64.8C8.6 66.8 10.2 69.7 11.8 71.0C13.4 72.3 15.8 72.8 17.4 72.8C18.9 72.8 20.5 71.3 21.1 71.0" stroke="#3b2623" stroke-width="5.1"/><path d="M13.0 57.4C12.3 57.6 9.7 57.6 8.9 58.8C8.1 60.0 7.6 62.8 8.1 64.8C8.6 66.8 10.2 69.7 11.8 71.0C13.4 72.3 15.8 72.8 17.4 72.8C18.9 72.8 20.5 71.3 21.1 71.0" stroke="#ffffff" stroke-width="2.8"/><path d="M21.1 71.0C21.5 69.8 22.5 65.5 23.5 64.0C24.5 62.5 25.9 61.7 27.2 61.9C28.4 62.1 29.9 63.7 31.0 65.4C32.1 67.1 33.2 70.6 34.0 72.2C34.8 73.8 35.6 74.8 35.9 75.3" stroke="#3b2623" stroke-width="6.6"/><path d="M21.1 71.0C21.5 69.8 22.5 65.5 23.5 64.0C24.5 62.5 25.9 61.7 27.2 61.9C28.4 62.1 29.9 63.7 31.0 65.4C32.1 67.1 33.2 70.6 34.0 72.2C34.8 73.8 35.6 74.8 35.9 75.3" stroke="#ffffff" stroke-width="4.3"/><path d="M38.4 67.4C38.9 67.0 40.4 64.9 41.5 65.0C42.6 65.1 44.1 66.3 45.2 67.9C46.3 69.5 47.4 72.8 48.3 74.7C49.2 76.7 50.3 78.8 50.7 79.6" stroke="#3b2623" stroke-width="6.6"/><path d="M38.4 67.4C38.9 67.0 40.4 64.9 41.5 65.0C42.6 65.1 44.1 66.3 45.2 67.9C46.3 69.5 47.4 72.8 48.3 74.7C49.2 76.7 50.3 78.8 50.7 79.6" stroke="#ffffff" stroke-width="4.3"/><path d="M53.4 71.0C54.0 70.5 55.7 68.1 56.9 68.1C58.1 68.1 59.5 69.4 60.6 71.0C61.7 72.6 62.8 75.8 63.7 77.8C64.6 79.8 65.8 82.4 66.2 83.3" stroke="#3b2623" stroke-width="6.6"/><path d="M53.4 71.0C54.0 70.5 55.7 68.1 56.9 68.1C58.1 68.1 59.5 69.4 60.6 71.0C61.7 72.6 62.8 75.8 63.7 77.8C64.6 79.8 65.8 82.4 66.2 83.3" stroke="#ffffff" stroke-width="4.3"/><path d="M69.5 74.7C70.0 74.2 71.3 72.0 72.4 71.8C73.5 71.6 74.7 72.4 76.1 73.4C77.5 74.4 79.8 76.9 80.6 77.6" stroke="#3b2623" stroke-width="6.1"/><path d="M69.5 74.7C70.0 74.2 71.3 72.0 72.4 71.8C73.5 71.6 74.7 72.4 76.1 73.4C77.5 74.4 79.8 76.9 80.6 77.6" stroke="#ffffff" stroke-width="3.8"/><path d="M68.0 84.6C67.8 85.4 67.6 88.0 66.8 89.5C66.0 91.0 64.5 92.9 63.1 93.8C61.7 94.7 59.8 95.4 58.2 95.1C56.7 94.8 55.0 92.7 53.8 92.0C52.5 91.3 51.2 90.9 50.7 90.7" stroke="#3b2623" stroke-width="3.7"/><path d="M68.0 84.6C67.8 85.4 67.6 88.0 66.8 89.5C66.0 91.0 64.5 92.9 63.1 93.8C61.7 94.7 59.8 95.4 58.2 95.1C56.7 94.8 55.0 92.7 53.8 92.0C52.5 91.3 51.2 90.9 50.7 90.7" stroke="#ffffff" stroke-width="1.4"/><path d="M30.3 78.4C30.4 79.0 31.6 81.1 31.0 82.1C30.4 83.1 28.2 84.4 26.6 84.6C25.1 84.8 22.5 83.5 21.7 83.3" stroke="#3b2623" stroke-width="3.7"/><path d="M30.3 78.4C30.4 79.0 31.6 81.1 31.0 82.1C30.4 83.1 28.2 84.4 26.6 84.6C25.1 84.8 22.5 83.5 21.7 83.3" stroke="#ffffff" stroke-width="1.4"/><path d="M32.2 90.7C33.0 90.9 35.5 92.4 37.1 92.0C38.8 91.6 40.4 89.3 42.1 88.3C43.9 87.3 46.4 85.6 47.6 85.8C48.8 86.0 49.8 88.1 49.5 89.5C49.2 90.9 46.6 92.6 45.8 94.4C45.0 96.2 45.2 98.9 44.6 100.6C44.0 102.2 43.6 103.5 42.1 104.3C40.6 105.1 37.6 105.1 35.9 105.6C34.1 106.1 32.3 107.1 31.6 107.4" stroke="#3b2623" stroke-width="3.7"/><path d="M32.2 90.7C33.0 90.9 35.5 92.4 37.1 92.0C38.8 91.6 40.4 89.3 42.1 88.3C43.9 87.3 46.4 85.6 47.6 85.8C48.8 86.0 49.8 88.1 49.5 89.5C49.2 90.9 46.6 92.6 45.8 94.4C45.0 96.2 45.2 98.9 44.6 100.6C44.0 102.2 43.6 103.5 42.1 104.3C40.6 105.1 37.6 105.1 35.9 105.6C34.1 106.1 32.3 107.1 31.6 107.4" stroke="#ffffff" stroke-width="1.4"/><path d="M39.6 93.7C40.6 93.6 44.2 92.7 45.7 92.9C47.2 93.2 48.2 94.8 48.7 95.2" stroke="#3b2623" stroke-width="3.6"/><path d="M39.6 93.7C40.6 93.6 44.2 92.7 45.7 92.9C47.2 93.2 48.2 94.8 48.7 95.2" stroke="#ffffff" stroke-width="1.3"/><path d="M19.9 84.1L20.4 85.1L21.0 86.6L21.8 88.3L22.7 90.1L23.7 91.8L24.8 93.3L26.0 94.9L27.2 96.4L28.4 97.8L29.7 99.0L30.9 100.0L30.0 101.3L31.9 101.3L33.6 101.1L35.0 100.8L35.9 100.6L35.9 100.6L35.5 99.7L35.0 98.5L34.5 97.0L34.3 95.5L33.3 96.8L32.3 96.0L31.4 95.0L30.2 93.8L29.1 92.4L28.0 91.0L27.1 89.6L26.2 88.2L25.4 86.5L24.6 84.9L24.0 83.5L23.5 82.5Z" fill="#ffffff" stroke="#3b2623" stroke-width="1.40"/></g>
<g id="pg2" fill="none" stroke-linecap="round" stroke-linejoin="round"><path d="M42.7 9.7C41.7 9.9 38.6 11.0 36.6 11.2C34.6 11.4 32.4 10.4 30.5 10.7C28.6 11.0 26.4 11.7 25.1 13.0C23.8 14.3 22.6 16.5 22.5 18.3C22.4 20.1 23.1 22.2 24.4 23.6C25.7 25.0 29.5 26.2 30.5 26.7" stroke="#3b2623" stroke-width="3.8"/><path d="M42.7 9.7C41.7 9.9 38.6 11.0 36.6 11.2C34.6 11.4 32.4 10.4 30.5 10.7C28.6 11.0 26.4 11.7 25.1 13.0C23.8 14.3 22.6 16.5 22.5 18.3C22.4 20.1 23.1 22.2 24.4 23.6C25.7 25.0 29.5 26.2 30.5 26.7" stroke="#cf968d" stroke-width="1.5"/><path d="M35.8 11.4C35.5 12.0 34.0 13.5 34.3 15.2C34.5 16.8 36.7 19.5 37.3 21.3C37.9 23.1 38.7 24.6 38.1 25.9C37.5 27.2 34.3 28.4 33.5 28.9" stroke="#3b2623" stroke-width="3.8"/><path d="M35.8 11.4C35.5 12.0 34.0 13.5 34.3 15.2C34.5 16.8 36.7 19.5 37.3 21.3C37.9 23.1 38.7 24.6 38.1 25.9C37.5 27.2 34.3 28.4 33.5 28.9" stroke="#cf968d" stroke-width="1.5"/><path d="M32.7 28.9C32.3 29.8 31.0 32.5 30.5 34.3C30.0 36.1 29.4 38.0 29.7 39.6C29.9 41.2 31.4 42.6 32.0 44.2C32.6 45.9 33.4 48.0 33.5 49.5C33.6 51.0 32.8 52.7 32.7 53.3" stroke="#3b2623" stroke-width="3.7"/><path d="M32.7 28.9C32.3 29.8 31.0 32.5 30.5 34.3C30.0 36.1 29.4 38.0 29.7 39.6C29.9 41.2 31.4 42.6 32.0 44.2C32.6 45.9 33.4 48.0 33.5 49.5C33.6 51.0 32.8 52.7 32.7 53.3" stroke="#cf968d" stroke-width="1.4"/><path d="M32.2 29.2L32.6 30.1L33.1 31.3L33.7 32.8L34.4 34.4L35.1 35.8L35.9 37.4L36.8 39.0L35.3 39.8L37.5 40.6L39.3 41.3L40.6 41.8L40.6 41.8L40.8 40.4L41.2 38.5L41.6 36.3L40.1 37.1L39.2 35.5L38.5 34.2L37.9 32.8L37.2 31.3L36.6 29.9L36.1 28.7L35.8 27.8Z" fill="#cf968d" stroke="#3b2623" stroke-width="1.40"/><path d="M40.4 42.7C40.4 43.8 40.0 47.0 40.4 49.5C40.8 52.0 41.8 55.5 42.7 57.9C43.6 60.3 45.2 63.0 45.7 64.0" stroke="#3b2623" stroke-width="3.6"/><path d="M40.4 42.7C40.4 43.8 40.0 47.0 40.4 49.5C40.8 52.0 41.8 55.5 42.7 57.9C43.6 60.3 45.2 63.0 45.7 64.0" stroke="#cf968d" stroke-width="1.3"/><path d="M32.7 53.3C32.3 52.7 31.8 50.4 30.5 49.5C29.2 48.6 26.8 47.8 25.1 48.0C23.5 48.2 21.7 49.6 20.6 51.0C19.5 52.4 18.4 55.0 18.3 56.4C18.2 57.8 19.6 58.9 19.8 59.4" stroke="#3b2623" stroke-width="3.7"/><path d="M32.7 53.3C32.3 52.7 31.8 50.4 30.5 49.5C29.2 48.6 26.8 47.8 25.1 48.0C23.5 48.2 21.7 49.6 20.6 51.0C19.5 52.4 18.4 55.0 18.3 56.4C18.2 57.8 19.6 58.9 19.8 59.4" stroke="#cf968d" stroke-width="1.4"/><path d="M25.0 69.0C29.2 69.8 41.5 71.9 50.0 73.5C58.5 75.1 71.7 77.7 76.0 78.5" stroke="#3b2623" stroke-width="6.8"/><path d="M25.0 69.0C29.2 69.8 41.5 71.9 50.0 73.5C58.5 75.1 71.7 77.7 76.0 78.5" stroke="#cf968d" stroke-width="4.5"/><path d="M35.9 75.0C36.1 74.2 36.6 71.5 37.2 70.0C37.8 68.5 39.1 66.7 39.5 66.0" stroke="#3b2623" stroke-width="5.3"/><path d="M35.9 75.0C36.1 74.2 36.6 71.5 37.2 70.0C37.8 68.5 39.1 66.7 39.5 66.0" stroke="#cf968d" stroke-width="3.0"/><path d="M50.7 79.3C51.0 78.3 51.5 75.1 52.2 73.5C52.9 71.9 54.4 70.2 54.8 69.5" stroke="#3b2623" stroke-width="5.3"/><path d="M50.7 79.3C51.0 78.3 51.5 75.1 52.2 73.5C52.9 71.9 54.4 70.2 54.8 69.5" stroke="#cf968d" stroke-width="3.0"/><path d="M66.2 83.0C66.5 82.0 67.1 78.7 67.8 77.0C68.5 75.3 70.0 73.7 70.4 73.0" stroke="#3b2623" stroke-width="5.3"/><path d="M66.2 83.0C66.5 82.0 67.1 78.7 67.8 77.0C68.5 75.3 70.0 73.7 70.4 73.0" stroke="#cf968d" stroke-width="3.0"/><path d="M13.0 57.4C12.3 57.6 9.7 57.6 8.9 58.8C8.1 60.0 7.6 62.8 8.1 64.8C8.6 66.8 10.2 69.7 11.8 71.0C13.4 72.3 15.8 72.8 17.4 72.8C18.9 72.8 20.5 71.3 21.1 71.0" stroke="#3b2623" stroke-width="5.1"/><path d="M13.0 57.4C12.3 57.6 9.7 57.6 8.9 58.8C8.1 60.0 7.6 62.8 8.1 64.8C8.6 66.8 10.2 69.7 11.8 71.0C13.4 72.3 15.8 72.8 17.4 72.8C18.9 72.8 20.5 71.3 21.1 71.0" stroke="#cf968d" stroke-width="2.8"/><path d="M21.1 71.0C21.5 69.8 22.5 65.5 23.5 64.0C24.5 62.5 25.9 61.7 27.2 61.9C28.4 62.1 29.9 63.7 31.0 65.4C32.1 67.1 33.2 70.6 34.0 72.2C34.8 73.8 35.6 74.8 35.9 75.3" stroke="#3b2623" stroke-width="6.6"/><path d="M21.1 71.0C21.5 69.8 22.5 65.5 23.5 64.0C24.5 62.5 25.9 61.7 27.2 61.9C28.4 62.1 29.9 63.7 31.0 65.4C32.1 67.1 33.2 70.6 34.0 72.2C34.8 73.8 35.6 74.8 35.9 75.3" stroke="#cf968d" stroke-width="4.3"/><path d="M38.4 67.4C38.9 67.0 40.4 64.9 41.5 65.0C42.6 65.1 44.1 66.3 45.2 67.9C46.3 69.5 47.4 72.8 48.3 74.7C49.2 76.7 50.3 78.8 50.7 79.6" stroke="#3b2623" stroke-width="6.6"/><path d="M38.4 67.4C38.9 67.0 40.4 64.9 41.5 65.0C42.6 65.1 44.1 66.3 45.2 67.9C46.3 69.5 47.4 72.8 48.3 74.7C49.2 76.7 50.3 78.8 50.7 79.6" stroke="#cf968d" stroke-width="4.3"/><path d="M53.4 71.0C54.0 70.5 55.7 68.1 56.9 68.1C58.1 68.1 59.5 69.4 60.6 71.0C61.7 72.6 62.8 75.8 63.7 77.8C64.6 79.8 65.8 82.4 66.2 83.3" stroke="#3b2623" stroke-width="6.6"/><path d="M53.4 71.0C54.0 70.5 55.7 68.1 56.9 68.1C58.1 68.1 59.5 69.4 60.6 71.0C61.7 72.6 62.8 75.8 63.7 77.8C64.6 79.8 65.8 82.4 66.2 83.3" stroke="#cf968d" stroke-width="4.3"/><path d="M69.5 74.7C70.0 74.2 71.3 72.0 72.4 71.8C73.5 71.6 74.7 72.4 76.1 73.4C77.5 74.4 79.8 76.9 80.6 77.6" stroke="#3b2623" stroke-width="6.1"/><path d="M69.5 74.7C70.0 74.2 71.3 72.0 72.4 71.8C73.5 71.6 74.7 72.4 76.1 73.4C77.5 74.4 79.8 76.9 80.6 77.6" stroke="#cf968d" stroke-width="3.8"/><path d="M68.0 84.6C67.8 85.4 67.6 88.0 66.8 89.5C66.0 91.0 64.5 92.9 63.1 93.8C61.7 94.7 59.8 95.4 58.2 95.1C56.7 94.8 55.0 92.7 53.8 92.0C52.5 91.3 51.2 90.9 50.7 90.7" stroke="#3b2623" stroke-width="3.7"/><path d="M68.0 84.6C67.8 85.4 67.6 88.0 66.8 89.5C66.0 91.0 64.5 92.9 63.1 93.8C61.7 94.7 59.8 95.4 58.2 95.1C56.7 94.8 55.0 92.7 53.8 92.0C52.5 91.3 51.2 90.9 50.7 90.7" stroke="#cf968d" stroke-width="1.4"/><path d="M30.3 78.4C30.4 79.0 31.6 81.1 31.0 82.1C30.4 83.1 28.2 84.4 26.6 84.6C25.1 84.8 22.5 83.5 21.7 83.3" stroke="#3b2623" stroke-width="3.7"/><path d="M30.3 78.4C30.4 79.0 31.6 81.1 31.0 82.1C30.4 83.1 28.2 84.4 26.6 84.6C25.1 84.8 22.5 83.5 21.7 83.3" stroke="#cf968d" stroke-width="1.4"/><path d="M32.2 90.7C33.0 90.9 35.5 92.4 37.1 92.0C38.8 91.6 40.4 89.3 42.1 88.3C43.9 87.3 46.4 85.6 47.6 85.8C48.8 86.0 49.8 88.1 49.5 89.5C49.2 90.9 46.6 92.6 45.8 94.4C45.0 96.2 45.2 98.9 44.6 100.6C44.0 102.2 43.6 103.5 42.1 104.3C40.6 105.1 37.6 105.1 35.9 105.6C34.1 106.1 32.3 107.1 31.6 107.4" stroke="#3b2623" stroke-width="3.7"/><path d="M32.2 90.7C33.0 90.9 35.5 92.4 37.1 92.0C38.8 91.6 40.4 89.3 42.1 88.3C43.9 87.3 46.4 85.6 47.6 85.8C48.8 86.0 49.8 88.1 49.5 89.5C49.2 90.9 46.6 92.6 45.8 94.4C45.0 96.2 45.2 98.9 44.6 100.6C44.0 102.2 43.6 103.5 42.1 104.3C40.6 105.1 37.6 105.1 35.9 105.6C34.1 106.1 32.3 107.1 31.6 107.4" stroke="#cf968d" stroke-width="1.4"/><path d="M39.6 93.7C40.6 93.6 44.2 92.7 45.7 92.9C47.2 93.2 48.2 94.8 48.7 95.2" stroke="#3b2623" stroke-width="3.6"/><path d="M39.6 93.7C40.6 93.6 44.2 92.7 45.7 92.9C47.2 93.2 48.2 94.8 48.7 95.2" stroke="#cf968d" stroke-width="1.3"/><path d="M19.9 84.1L20.4 85.1L21.0 86.6L21.8 88.3L22.7 90.1L23.7 91.8L24.8 93.3L26.0 94.9L27.2 96.4L28.4 97.8L29.7 99.0L30.9 100.0L30.0 101.3L31.9 101.3L33.6 101.1L35.0 100.8L35.9 100.6L35.9 100.6L35.5 99.7L35.0 98.5L34.5 97.0L34.3 95.5L33.3 96.8L32.3 96.0L31.4 95.0L30.2 93.8L29.1 92.4L28.0 91.0L27.1 89.6L26.2 88.2L25.4 86.5L24.6 84.9L24.0 83.5L23.5 82.5Z" fill="#cf968d" stroke="#3b2623" stroke-width="1.40"/></g>
<g id="p0" fill="none" stroke-linecap="round" stroke-linejoin="round"><path d="M108.8 18.1C108.7 17.3 109.0 14.7 108.0 13.2C107.0 11.7 104.8 9.9 103.0 9.1C101.2 8.3 98.9 7.1 97.3 8.2C95.7 9.3 94.8 14.2 93.2 15.7C91.6 17.2 89.5 17.4 87.4 17.3C85.3 17.2 83.0 14.7 80.8 14.8C78.6 14.9 76.7 16.5 74.2 18.1C71.7 19.8 67.7 22.6 66.0 24.7C64.3 26.8 63.9 28.7 64.3 30.5C64.7 32.3 66.8 34.2 68.4 35.4C70.1 36.6 72.4 38.3 74.2 37.9C76.0 37.5 77.4 35.2 79.1 33.0C80.8 30.8 82.2 26.8 84.1 24.7C86.0 22.6 88.6 21.6 90.7 20.6C92.8 19.7 95.5 19.3 96.5 19.0" stroke="#2a1512" stroke-width="3.9"/><path d="M108.8 18.1C108.7 17.3 109.0 14.7 108.0 13.2C107.0 11.7 104.8 9.9 103.0 9.1C101.2 8.3 98.9 7.1 97.3 8.2C95.7 9.3 94.8 14.2 93.2 15.7C91.6 17.2 89.5 17.4 87.4 17.3C85.3 17.2 83.0 14.7 80.8 14.8C78.6 14.9 76.7 16.5 74.2 18.1C71.7 19.8 67.7 22.6 66.0 24.7C64.3 26.8 63.9 28.7 64.3 30.5C64.7 32.3 66.8 34.2 68.4 35.4C70.1 36.6 72.4 38.3 74.2 37.9C76.0 37.5 77.4 35.2 79.1 33.0C80.8 30.8 82.2 26.8 84.1 24.7C86.0 22.6 88.6 21.6 90.7 20.6C92.8 19.7 95.5 19.3 96.5 19.0" stroke="#e2968b" stroke-width="1.4"/><path d="M74.2 37.9C73.1 39.0 69.4 42.0 67.6 44.5C65.8 47.0 64.5 49.8 63.5 52.8C62.5 55.8 62.5 59.8 61.8 62.7C61.1 65.6 60.2 67.6 59.4 70.1C58.6 72.6 57.3 76.3 56.9 77.5" stroke="#2a1512" stroke-width="3.9"/><path d="M74.2 37.9C73.1 39.0 69.4 42.0 67.6 44.5C65.8 47.0 64.5 49.8 63.5 52.8C62.5 55.8 62.5 59.8 61.8 62.7C61.1 65.6 60.2 67.6 59.4 70.1C58.6 72.6 57.3 76.3 56.9 77.5" stroke="#e2968b" stroke-width="1.4"/><path d="M72.5 39.6L72.5 46.2" stroke="#2a1512" stroke-width="3.9"/><path d="M72.5 39.6L72.5 46.2" stroke="#e2968b" stroke-width="1.4"/><path d="M6.6 33.0C7.3 34.0 9.3 38.0 10.7 38.7C12.1 39.4 13.4 38.3 14.8 37.1C16.2 35.9 17.4 32.0 19.0 31.3C20.6 30.6 23.3 32.0 24.7 33.0C26.1 34.0 26.8 35.5 27.2 37.1C27.6 38.8 26.2 40.3 27.2 42.9C28.2 45.5 31.6 50.0 33.0 52.8C34.4 55.5 34.7 57.2 35.4 59.4C36.1 61.6 36.4 63.5 37.1 66.0C37.8 68.5 38.1 72.0 39.6 74.2C41.1 76.4 44.7 77.4 46.2 79.1C47.7 80.8 48.3 82.6 48.6 84.1C48.9 85.6 47.1 87.1 47.8 88.2C48.5 89.3 51.4 90.6 52.8 90.7C54.2 90.8 55.3 90.7 56.1 89.0C56.9 87.3 57.6 82.7 57.7 80.8C57.8 78.9 57.0 78.0 56.9 77.5" stroke="#2a1512" stroke-width="3.9"/><path d="M6.6 33.0C7.3 34.0 9.3 38.0 10.7 38.7C12.1 39.4 13.4 38.3 14.8 37.1C16.2 35.9 17.4 32.0 19.0 31.3C20.6 30.6 23.3 32.0 24.7 33.0C26.1 34.0 26.8 35.5 27.2 37.1C27.6 38.8 26.2 40.3 27.2 42.9C28.2 45.5 31.6 50.0 33.0 52.8C34.4 55.5 34.7 57.2 35.4 59.4C36.1 61.6 36.4 63.5 37.1 66.0C37.8 68.5 38.1 72.0 39.6 74.2C41.1 76.4 44.7 77.4 46.2 79.1C47.7 80.8 48.3 82.6 48.6 84.1C48.9 85.6 47.1 87.1 47.8 88.2C48.5 89.3 51.4 90.6 52.8 90.7C54.2 90.8 55.3 90.7 56.1 89.0C56.9 87.3 57.6 82.7 57.7 80.8C57.8 78.9 57.0 78.0 56.9 77.5" stroke="#e2968b" stroke-width="1.4"/><path d="M6.8 33.2L9.5 37.3" stroke="#2a1512" stroke-width="4.4"/><path d="M6.8 33.2L9.5 37.3" stroke="#e98c7e" stroke-width="2.1"/><path d="M11.5 39.0C13.0 39.2 18.4 40.4 20.6 40.4C22.8 40.4 24.0 39.0 24.7 38.7" stroke="#2a1512" stroke-width="4.2"/><path d="M11.5 39.0C13.0 39.2 18.4 40.4 20.6 40.4C22.8 40.4 24.0 39.0 24.7 38.7" stroke="#e98c7e" stroke-width="1.9"/><path d="M28.0 39.6C29.4 39.9 34.5 41.4 36.3 41.2C38.1 41.1 38.3 39.1 38.7 38.7" stroke="#2a1512" stroke-width="5.3"/><path d="M28.0 39.6C29.4 39.9 34.5 41.4 36.3 41.2C38.1 41.1 38.3 39.1 38.7 38.7" stroke="#e98c7e" stroke-width="3.0"/><path d="M54.4 46.2C55.2 47.3 58.2 50.0 59.4 52.8C60.6 55.5 60.8 59.4 61.8 62.7C62.8 66.0 64.3 69.8 65.1 72.5C65.9 75.2 66.4 76.8 66.8 79.1C67.2 81.4 66.6 85.5 67.6 86.6C68.5 87.7 70.3 86.4 72.5 85.7C74.7 85.0 80.0 83.5 80.8 82.4C81.6 81.3 79.0 79.8 77.5 79.1C76.0 78.4 73.1 80.1 71.7 78.3C70.3 76.5 70.2 70.2 69.2 68.4C68.2 66.6 66.5 67.7 66.0 67.6" stroke="#2a1512" stroke-width="3.9"/><path d="M54.4 46.2C55.2 47.3 58.2 50.0 59.4 52.8C60.6 55.5 60.8 59.4 61.8 62.7C62.8 66.0 64.3 69.8 65.1 72.5C65.9 75.2 66.4 76.8 66.8 79.1C67.2 81.4 66.6 85.5 67.6 86.6C68.5 87.7 70.3 86.4 72.5 85.7C74.7 85.0 80.0 83.5 80.8 82.4C81.6 81.3 79.0 79.8 77.5 79.1C76.0 78.4 73.1 80.1 71.7 78.3C70.3 76.5 70.2 70.2 69.2 68.4C68.2 66.6 66.5 67.7 66.0 67.6" stroke="#e2968b" stroke-width="1.4"/><path d="M58.7 52.3L59.0 53.8L59.4 55.8L59.9 58.2L60.4 60.7L61.0 63.1L61.6 65.6L62.4 68.3L63.1 70.9L63.8 73.1L64.3 74.7L67.7 73.7L67.3 72.1L66.6 69.9L65.8 67.3L65.1 64.7L64.4 62.3L63.9 60.0L63.4 57.5L62.9 55.1L62.5 53.1L62.3 51.7Z" fill="#e98c7e" stroke="#2a1512" stroke-width="1.45"/><path d="M47.8 16.5C46.7 16.4 42.4 16.5 41.2 15.7C40.0 14.9 39.6 12.9 40.4 11.5C41.2 10.1 43.9 7.8 46.2 7.0C48.5 6.2 52.9 6.2 54.4 6.6C55.9 6.9 56.0 7.4 55.2 9.1C54.4 10.8 50.5 15.3 49.5 16.5" stroke="#2a1512" stroke-width="3.9"/><path d="M47.8 16.5C46.7 16.4 42.4 16.5 41.2 15.7C40.0 14.9 39.6 12.9 40.4 11.5C41.2 10.1 43.9 7.8 46.2 7.0C48.5 6.2 52.9 6.2 54.4 6.6C55.9 6.9 56.0 7.4 55.2 9.1C54.4 10.8 50.5 15.3 49.5 16.5" stroke="#e2968b" stroke-width="1.4"/><path d="M47.0 18.5C45.8 19.1 41.3 20.6 40.0 22.0C38.7 23.4 38.7 25.5 39.0 27.0C39.3 28.5 41.5 30.3 42.0 31.0" stroke="#2a1512" stroke-width="4.1"/><path d="M47.0 18.5C45.8 19.1 41.3 20.6 40.0 22.0C38.7 23.4 38.7 25.5 39.0 27.0C39.3 28.5 41.5 30.3 42.0 31.0" stroke="#cf6f62" stroke-width="1.8"/><path d="M45.0 33.0C44.2 33.7 40.9 35.6 40.0 37.0C39.1 38.4 39.1 40.2 39.6 41.5C40.1 42.8 42.4 44.4 43.0 45.0" stroke="#2a1512" stroke-width="4.1"/><path d="M45.0 33.0C44.2 33.7 40.9 35.6 40.0 37.0C39.1 38.4 39.1 40.2 39.6 41.5C40.1 42.8 42.4 44.4 43.0 45.0" stroke="#cf6f62" stroke-width="1.8"/><path d="M45.0 47.0C44.3 47.7 41.7 49.6 41.0 51.0C40.3 52.4 40.1 54.2 40.6 55.5C41.1 56.8 43.4 58.4 44.0 59.0" stroke="#2a1512" stroke-width="4.1"/><path d="M45.0 47.0C44.3 47.7 41.7 49.6 41.0 51.0C40.3 52.4 40.1 54.2 40.6 55.5C41.1 56.8 43.4 58.4 44.0 59.0" stroke="#cf6f62" stroke-width="1.8"/><path d="M45.0 19.2L51.5 19.8" stroke="#2a1512" stroke-width="6.7"/><path d="M45.0 19.2L51.5 19.8" stroke="#e98c7e" stroke-width="4.4"/><path d="M42.0 31.5C42.8 31.8 45.3 33.0 47.0 33.0C48.7 33.0 51.2 31.5 52.0 31.2" stroke="#2a1512" stroke-width="6.7"/><path d="M42.0 31.5C42.8 31.8 45.3 33.0 47.0 33.0C48.7 33.0 51.2 31.5 52.0 31.2" stroke="#e98c7e" stroke-width="4.4"/><path d="M43.0 45.5C43.8 45.8 46.5 47.1 48.0 47.0C49.5 46.9 51.5 45.3 52.2 45.0" stroke="#2a1512" stroke-width="6.7"/><path d="M43.0 45.5C43.8 45.8 46.5 47.1 48.0 47.0C49.5 46.9 51.5 45.3 52.2 45.0" stroke="#e98c7e" stroke-width="4.4"/><path d="M44.5 59.5C45.2 59.8 47.7 61.0 49.0 61.0C50.3 61.0 51.9 59.8 52.5 59.5" stroke="#2a1512" stroke-width="6.5"/><path d="M44.5 59.5C45.2 59.8 47.7 61.0 49.0 61.0C50.3 61.0 51.9 59.8 52.5 59.5" stroke="#e98c7e" stroke-width="4.2"/><path d="M52.8 22.0C53.0 22.8 53.8 25.7 53.8 27.0C53.8 28.3 52.7 29.5 52.5 30.0" stroke="#2a1512" stroke-width="3.8"/><path d="M52.8 22.0C53.0 22.8 53.8 25.7 53.8 27.0C53.8 28.3 52.7 29.5 52.5 30.0" stroke="#e2968b" stroke-width="1.3"/><path d="M53.0 34.0C53.2 35.0 54.1 38.3 54.0 40.0C53.9 41.7 52.8 43.3 52.5 44.0" stroke="#2a1512" stroke-width="3.8"/><path d="M53.0 34.0C53.2 35.0 54.1 38.3 54.0 40.0C53.9 41.7 52.8 43.3 52.5 44.0" stroke="#e2968b" stroke-width="1.3"/><path d="M53.0 48.0C53.2 49.0 54.5 52.3 54.5 54.0C54.5 55.7 53.2 57.3 53.0 58.0" stroke="#2a1512" stroke-width="3.8"/><path d="M53.0 48.0C53.2 49.0 54.5 52.3 54.5 54.0C54.5 55.7 53.2 57.3 53.0 58.0" stroke="#e2968b" stroke-width="1.3"/></g>
<g id="p4" fill="none" stroke-linecap="round" stroke-linejoin="round"><path d="M86.8 18.3C86.4 17.7 86.0 15.4 84.5 14.5C83.0 13.6 79.6 12.5 77.7 12.9C75.8 13.3 74.4 15.2 73.1 16.8C71.8 18.4 70.6 21.8 70.1 22.8" stroke="#2a1512" stroke-width="4.2"/><path d="M86.8 18.3C86.4 17.7 86.0 15.4 84.5 14.5C83.0 13.6 79.6 12.5 77.7 12.9C75.8 13.3 74.4 15.2 73.1 16.8C71.8 18.4 70.6 21.8 70.1 22.8" stroke="#e2968b" stroke-width="1.7"/><path d="M86.3 17.2L84.8 14.8" stroke="#2a1512" stroke-width="4.2"/><path d="M86.3 17.2L84.8 14.8" stroke="#e2968b" stroke-width="1.9"/><path d="M67.0 41.1C66.4 42.5 64.3 46.5 63.2 49.5C62.1 52.5 61.0 56.2 60.2 59.4C59.4 62.6 58.9 67.0 58.6 68.5" stroke="#2a1512" stroke-width="4.0"/><path d="M67.0 41.1C66.4 42.5 64.3 46.5 63.2 49.5C62.1 52.5 61.0 56.2 60.2 59.4C59.4 62.6 58.9 67.0 58.6 68.5" stroke="#e2968b" stroke-width="1.5"/><path d="M54.8 32.7C54.5 33.9 54.2 38.5 53.3 39.6C52.4 40.8 50.6 39.0 49.5 39.6C48.4 40.2 46.6 42.0 46.5 43.4C46.4 44.8 47.4 47.4 48.7 48.0C50.0 48.6 53.1 45.8 54.1 47.2C55.1 48.6 54.4 54.9 54.5 56.4" stroke="#2a1512" stroke-width="3.9"/><path d="M54.8 32.7C54.5 33.9 54.2 38.5 53.3 39.6C52.4 40.8 50.6 39.0 49.5 39.6C48.4 40.2 46.6 42.0 46.5 43.4C46.4 44.8 47.4 47.4 48.7 48.0C50.0 48.6 53.1 45.8 54.1 47.2C55.1 48.6 54.4 54.9 54.5 56.4" stroke="#e2968b" stroke-width="1.4"/><path d="M70.6 20.6L69.7 21.0L68.4 21.7L66.8 22.4L65.2 23.2L63.6 24.1L62.1 25.0L60.6 26.0L59.1 27.1L57.8 28.0L56.7 28.8L55.8 29.3L55.1 29.8L54.5 30.2L54.0 30.5L53.7 30.7L55.9 34.3L56.3 34.0L56.8 33.7L57.4 33.3L58.1 32.9L59.1 32.2L60.2 31.4L61.6 30.5L63.0 29.5L64.4 28.5L65.8 27.7L67.1 26.9L68.7 26.2L70.2 25.5L71.5 24.8L72.4 24.4Z" fill="#e98c7e" stroke="#2a1512" stroke-width="1.45"/><path d="M70.8 21.5L70.8 22.5L70.8 24.0L70.7 25.6L70.6 27.2L70.4 28.6L70.1 29.8L69.7 31.1L69.1 32.4L68.5 33.8L68.0 35.2L67.4 36.7L66.7 38.3L65.6 37.9L66.2 39.9L66.8 41.7L67.2 43.0L67.2 43.0L68.4 42.4L70.0 41.5L72.0 40.4L70.8 40.0L71.5 38.3L72.0 36.8L72.6 35.5L73.2 34.1L73.8 32.6L74.3 31.1L74.8 29.4L75.0 27.6L75.1 25.8L75.2 24.0L75.2 22.6L75.2 21.5Z" fill="#e98c7e" stroke="#2a1512" stroke-width="1.45"/><path d="M33.5 31.2C32.6 31.2 29.8 30.2 28.2 31.2C26.6 32.2 24.1 35.1 23.6 37.3C23.1 39.5 24.0 42.3 25.1 44.2C26.2 46.1 29.6 48.0 30.5 48.7" stroke="#2a1512" stroke-width="3.9"/><path d="M33.5 31.2C32.6 31.2 29.8 30.2 28.2 31.2C26.6 32.2 24.1 35.1 23.6 37.3C23.1 39.5 24.0 42.3 25.1 44.2C26.2 46.1 29.6 48.0 30.5 48.7" stroke="#e2968b" stroke-width="1.4"/><path d="M34.0 31.5C33.6 32.6 31.8 35.9 31.5 38.0C31.2 40.1 32.3 43.0 32.5 44.0" stroke="#2a1512" stroke-width="3.9"/><path d="M34.0 31.5C33.6 32.6 31.8 35.9 31.5 38.0C31.2 40.1 32.3 43.0 32.5 44.0" stroke="#e2968b" stroke-width="1.4"/><path d="M39.6 45.7C39.1 46.4 37.5 48.5 36.5 50.0C35.5 51.5 34.0 54.0 33.5 54.8" stroke="#2a1512" stroke-width="4.5"/><path d="M39.6 45.7C39.1 46.4 37.5 48.5 36.5 50.0C35.5 51.5 34.0 54.0 33.5 54.8" stroke="#cf6f62" stroke-width="2.2"/><path d="M48.0 56.4C47.4 57.1 45.6 59.1 44.5 60.5C43.4 61.9 41.7 64.0 41.1 64.7" stroke="#2a1512" stroke-width="4.5"/><path d="M48.0 56.4C47.4 57.1 45.6 59.1 44.5 60.5C43.4 61.9 41.7 64.0 41.1 64.7" stroke="#cf6f62" stroke-width="2.2"/><path d="M56.4 67.0C55.8 67.8 54.1 70.0 53.0 71.5C51.9 73.0 50.1 75.4 49.5 76.2" stroke="#2a1512" stroke-width="4.5"/><path d="M56.4 67.0C55.8 67.8 54.1 70.0 53.0 71.5C51.9 73.0 50.1 75.4 49.5 76.2" stroke="#cf6f62" stroke-width="2.2"/><path d="M30.5 49.0C30.9 48.4 32.0 46.2 33.0 45.2C34.0 44.2 35.5 42.6 36.6 42.7C37.7 42.8 39.3 45.2 39.8 45.7" stroke="#2a1512" stroke-width="6.3"/><path d="M30.5 49.0C30.9 48.4 32.0 46.2 33.0 45.2C34.0 44.2 35.5 42.6 36.6 42.7C37.7 42.8 39.3 45.2 39.8 45.7" stroke="#e98c7e" stroke-width="4.0"/><path d="M33.5 54.8C34.4 55.5 37.4 59.0 38.8 59.2C40.2 59.4 41.0 57.0 42.0 56.0C43.0 55.0 43.9 53.2 44.9 53.3C45.9 53.4 47.7 55.9 48.2 56.4" stroke="#2a1512" stroke-width="6.3"/><path d="M33.5 54.8C34.4 55.5 37.4 59.0 38.8 59.2C40.2 59.4 41.0 57.0 42.0 56.0C43.0 55.0 43.9 53.2 44.9 53.3C45.9 53.4 47.7 55.9 48.2 56.4" stroke="#e98c7e" stroke-width="4.0"/><path d="M41.1 64.7C42.1 65.6 45.7 69.5 47.2 69.9C48.7 70.3 49.3 68.0 50.3 67.0C51.3 66.0 52.2 64.0 53.3 64.0C54.3 64.0 56.0 66.5 56.6 67.0" stroke="#2a1512" stroke-width="6.3"/><path d="M41.1 64.7C42.1 65.6 45.7 69.5 47.2 69.9C48.7 70.3 49.3 68.0 50.3 67.0C51.3 66.0 52.2 64.0 53.3 64.0C54.3 64.0 56.0 66.5 56.6 67.0" stroke="#e98c7e" stroke-width="4.0"/><path d="M49.5 76.2C50.4 77.2 53.0 81.5 54.8 82.0C56.6 82.5 59.4 80.5 60.5 79.2C61.6 78.0 61.2 76.0 61.2 74.5C61.2 73.0 60.6 71.2 60.5 70.5" stroke="#2a1512" stroke-width="6.3"/><path d="M49.5 76.2C50.4 77.2 53.0 81.5 54.8 82.0C56.6 82.5 59.4 80.5 60.5 79.2C61.6 78.0 61.2 76.0 61.2 74.5C61.2 73.0 60.6 71.2 60.5 70.5" stroke="#e98c7e" stroke-width="4.0"/><path d="M7.6 74.6C8.4 75.4 10.5 78.6 12.2 79.2C13.8 79.8 16.1 79.9 17.5 78.4C18.9 76.9 19.2 72.0 20.6 70.1C22.0 68.2 24.2 67.3 25.9 67.0C27.5 66.7 29.5 67.0 30.5 68.5C31.5 70.0 31.8 74.9 32.0 76.2" stroke="#2a1512" stroke-width="3.9"/><path d="M7.6 74.6C8.4 75.4 10.5 78.6 12.2 79.2C13.8 79.8 16.1 79.9 17.5 78.4C18.9 76.9 19.2 72.0 20.6 70.1C22.0 68.2 24.2 67.3 25.9 67.0C27.5 66.7 29.5 67.0 30.5 68.5C31.5 70.0 31.8 74.9 32.0 76.2" stroke="#e2968b" stroke-width="1.4"/><path d="M8.0 75.0L11.0 78.0" stroke="#2a1512" stroke-width="4.4"/><path d="M8.0 75.0L11.0 78.0" stroke="#e98c7e" stroke-width="2.1"/><path d="M32.0 69.3C33.0 69.7 36.3 71.5 38.1 71.6C39.9 71.7 41.9 70.3 42.7 70.1" stroke="#2a1512" stroke-width="3.9"/><path d="M32.0 69.3C33.0 69.7 36.3 71.5 38.1 71.6C39.9 71.7 41.9 70.3 42.7 70.1" stroke="#e2968b" stroke-width="1.4"/><path d="M25.8 64.8L25.9 66.5L26.0 68.9L26.2 71.7L26.6 74.5L27.5 77.0L29.1 78.8L31.1 80.1L33.2 81.0L34.9 81.7L36.0 82.2L37.2 79.2L36.1 78.7L34.4 78.1L32.7 77.3L31.2 76.4L30.3 75.4L29.7 73.8L29.4 71.4L29.2 68.7L29.1 66.3L29.0 64.6Z" fill="#e98c7e" stroke="#2a1512" stroke-width="1.45"/><path d="M21.8 71.5L24.0 75.5" stroke="#2a1512" stroke-width="4.4"/><path d="M21.8 71.5L24.0 75.5" stroke="#e98c7e" stroke-width="2.1"/><path d="M33.5 83.0C34.3 84.0 36.6 86.8 38.1 89.1C39.6 91.4 40.9 95.4 42.7 96.7C44.5 98.0 46.8 96.5 48.7 96.7C50.6 97.0 52.8 96.9 54.1 98.2C55.4 99.5 54.9 103.3 56.4 104.3C57.9 105.3 61.6 105.2 63.2 104.3C64.9 103.4 66.0 101.4 66.3 99.0C66.5 96.6 65.2 92.4 64.7 89.9C64.2 87.4 63.5 84.8 63.2 83.8" stroke="#2a1512" stroke-width="3.9"/><path d="M33.5 83.0C34.3 84.0 36.6 86.8 38.1 89.1C39.6 91.4 40.9 95.4 42.7 96.7C44.5 98.0 46.8 96.5 48.7 96.7C50.6 97.0 52.8 96.9 54.1 98.2C55.4 99.5 54.9 103.3 56.4 104.3C57.9 105.3 61.6 105.2 63.2 104.3C64.9 103.4 66.0 101.4 66.3 99.0C66.5 96.6 65.2 92.4 64.7 89.9C64.2 87.4 63.5 84.8 63.2 83.8" stroke="#e2968b" stroke-width="1.4"/><path d="M65.5 78.4C66.0 79.3 67.2 82.4 68.5 83.8C69.8 85.2 71.1 86.4 73.1 86.8C75.1 87.2 79.9 85.3 80.7 86.1C81.5 86.9 78.8 90.1 77.7 91.4C76.6 92.7 75.1 94.1 73.9 93.7C72.8 93.3 72.0 90.6 70.8 89.1C69.6 87.6 67.6 85.3 67.0 84.5" stroke="#2a1512" stroke-width="3.9"/><path d="M65.5 78.4C66.0 79.3 67.2 82.4 68.5 83.8C69.8 85.2 71.1 86.4 73.1 86.8C75.1 87.2 79.9 85.3 80.7 86.1C81.5 86.9 78.8 90.1 77.7 91.4C76.6 92.7 75.1 94.1 73.9 93.7C72.8 93.3 72.0 90.6 70.8 89.1C69.6 87.6 67.6 85.3 67.0 84.5" stroke="#e2968b" stroke-width="1.4"/><path d="M62.1 81.6L62.5 92.1L65.9 91.9L65.5 81.4Z" fill="#e98c7e" stroke="#2a1512" stroke-width="1.45"/></g>
<g id="p8" fill="none" stroke-linecap="round" stroke-linejoin="round"><path d="M58.6 15.2C57.7 15.2 54.9 15.3 53.3 15.2C51.6 15.1 50.4 14.8 48.7 14.5C47.1 14.2 45.0 12.9 43.4 13.7C41.8 14.4 39.4 17.1 38.8 19.0C38.2 20.9 38.6 23.3 39.6 25.1C40.6 26.9 44.0 28.9 44.9 29.7" stroke="#2a1512" stroke-width="3.9"/><path d="M58.6 15.2C57.7 15.2 54.9 15.3 53.3 15.2C51.6 15.1 50.4 14.8 48.7 14.5C47.1 14.2 45.0 12.9 43.4 13.7C41.8 14.4 39.4 17.1 38.8 19.0C38.2 20.9 38.6 23.3 39.6 25.1C40.6 26.9 44.0 28.9 44.9 29.7" stroke="#e2968b" stroke-width="1.4"/><path d="M48.7 15.2C48.5 16.2 47.3 19.1 47.2 21.3C47.1 23.5 48.2 26.4 48.0 28.2C47.8 30.0 46.9 30.5 45.7 32.0C44.6 33.5 42.2 35.8 41.1 37.3C40.0 38.8 39.2 39.5 38.8 41.1C38.4 42.8 38.9 45.3 38.8 47.2C38.7 49.1 38.2 51.7 38.1 52.6" stroke="#2a1512" stroke-width="3.9"/><path d="M48.7 15.2C48.5 16.2 47.3 19.1 47.2 21.3C47.1 23.5 48.2 26.4 48.0 28.2C47.8 30.0 46.9 30.5 45.7 32.0C44.6 33.5 42.2 35.8 41.1 37.3C40.0 38.8 39.2 39.5 38.8 41.1C38.4 42.8 38.9 45.3 38.8 47.2C38.7 49.1 38.2 51.7 38.1 52.6" stroke="#e2968b" stroke-width="1.4"/><path d="M58.0 15.2L53.5 15.4" stroke="#2a1512" stroke-width="4.2"/><path d="M58.0 15.2L53.5 15.4" stroke="#e98c7e" stroke-width="1.9"/><path d="M48.7 47.2C48.5 48.5 47.2 51.9 47.2 54.8C47.2 57.7 48.2 61.7 48.7 64.7C49.2 67.8 50.2 70.9 50.3 73.1C50.4 75.3 49.6 76.9 49.5 77.7" stroke="#2a1512" stroke-width="3.9"/><path d="M48.7 47.2C48.5 48.5 47.2 51.9 47.2 54.8C47.2 57.7 48.2 61.7 48.7 64.7C49.2 67.8 50.2 70.9 50.3 73.1C50.4 75.3 49.6 76.9 49.5 77.7" stroke="#e2968b" stroke-width="1.4"/><path d="M43.7 34.1L43.9 35.0L44.3 36.2L44.7 37.6L45.2 39.2L45.6 40.6L46.1 42.1L46.6 43.7L45.3 44.1L47.1 45.3L48.7 46.3L49.8 47.0L49.8 47.0L50.3 45.8L51.0 44.1L51.8 42.1L50.6 42.5L50.1 40.9L49.6 39.4L49.2 38.0L48.7 36.5L48.3 35.0L48.0 33.8L47.7 32.9Z" fill="#e98c7e" stroke="#2a1512" stroke-width="1.45"/><path d="M38.1 52.6C37.5 52.1 35.7 49.8 34.3 49.5C32.9 49.2 30.8 50.1 29.7 51.0C28.6 51.9 27.6 53.3 27.4 54.8C27.1 56.3 28.1 59.3 28.2 60.2" stroke="#2a1512" stroke-width="3.9"/><path d="M38.1 52.6C37.5 52.1 35.7 49.8 34.3 49.5C32.9 49.2 30.8 50.1 29.7 51.0C28.6 51.9 27.6 53.3 27.4 54.8C27.1 56.3 28.1 59.3 28.2 60.2" stroke="#e2968b" stroke-width="1.4"/><path d="M16.0 53.3C15.4 54.3 12.6 57.4 12.2 59.4C11.8 61.4 12.7 63.9 13.7 65.5C14.7 67.2 16.5 68.8 18.3 69.3C20.1 69.8 23.4 68.6 24.4 68.5" stroke="#2a1512" stroke-width="3.9"/><path d="M16.0 53.3C15.4 54.3 12.6 57.4 12.2 59.4C11.8 61.4 12.7 63.9 13.7 65.5C14.7 67.2 16.5 68.8 18.3 69.3C20.1 69.8 23.4 68.6 24.4 68.5" stroke="#e2968b" stroke-width="1.4"/><path d="M16.0 54.1C16.2 55.2 16.5 59.0 17.5 60.9C18.5 62.8 20.7 64.5 22.1 65.5C23.5 66.5 25.3 66.8 25.9 67.0" stroke="#2a1512" stroke-width="3.9"/><path d="M16.0 54.1C16.2 55.2 16.5 59.0 17.5 60.9C18.5 62.8 20.7 64.5 22.1 65.5C23.5 66.5 25.3 66.8 25.9 67.0" stroke="#e2968b" stroke-width="1.4"/><path d="M30.0 69.0C33.3 70.4 43.5 74.8 50.0 77.5C56.5 80.2 65.8 84.2 69.0 85.5" stroke="#2a1512" stroke-width="6.8"/><path d="M30.0 69.0C33.3 70.4 43.5 74.8 50.0 77.5C56.5 80.2 65.8 84.2 69.0 85.5" stroke="#cf6f62" stroke-width="4.5"/><path d="M32.7 76.2C33.6 75.3 36.2 72.5 38.0 71.0C39.8 69.5 42.5 68.0 43.4 67.4" stroke="#2a1512" stroke-width="5.3"/><path d="M32.7 76.2C33.6 75.3 36.2 72.5 38.0 71.0C39.8 69.5 42.5 68.0 43.4 67.4" stroke="#cf6f62" stroke-width="3.0"/><path d="M47.2 81.5C48.2 80.8 51.1 78.2 53.0 77.0C54.9 75.8 57.7 74.7 58.6 74.2" stroke="#2a1512" stroke-width="5.3"/><path d="M47.2 81.5C48.2 80.8 51.1 78.2 53.0 77.0C54.9 75.8 57.7 74.7 58.6 74.2" stroke="#cf6f62" stroke-width="3.0"/><path d="M62.5 88.3C63.2 87.8 65.8 85.9 67.0 85.0C68.2 84.1 69.5 83.3 70.0 83.0" stroke="#2a1512" stroke-width="5.3"/><path d="M62.5 88.3C63.2 87.8 65.8 85.9 67.0 85.0C68.2 84.1 69.5 83.3 70.0 83.0" stroke="#cf6f62" stroke-width="3.0"/><path d="M26.0 66.0C26.4 65.3 27.6 62.6 28.5 62.0C29.4 61.4 31.2 61.3 31.5 62.5C31.8 63.7 30.2 66.7 30.5 69.0C30.8 71.3 32.6 75.2 33.0 76.4" stroke="#2a1512" stroke-width="6.5"/><path d="M26.0 66.0C26.4 65.3 27.6 62.6 28.5 62.0C29.4 61.4 31.2 61.3 31.5 62.5C31.8 63.7 30.2 66.7 30.5 69.0C30.8 71.3 32.6 75.2 33.0 76.4" stroke="#e98c7e" stroke-width="4.2"/><path d="M38.0 72.0C38.8 71.2 41.2 68.1 42.5 67.5C43.8 66.9 45.1 67.3 45.5 68.5C45.9 69.7 44.5 72.3 44.8 74.5C45.1 76.7 47.0 80.6 47.4 81.8" stroke="#2a1512" stroke-width="6.5"/><path d="M38.0 72.0C38.8 71.2 41.2 68.1 42.5 67.5C43.8 66.9 45.1 67.3 45.5 68.5C45.9 69.7 44.5 72.3 44.8 74.5C45.1 76.7 47.0 80.6 47.4 81.8" stroke="#e98c7e" stroke-width="4.2"/><path d="M53.0 78.0C53.8 77.4 56.2 74.7 57.5 74.2C58.8 73.7 60.2 73.9 60.6 75.0C61.0 76.1 59.7 78.8 60.0 81.0C60.3 83.2 62.2 87.2 62.6 88.5" stroke="#2a1512" stroke-width="6.5"/><path d="M53.0 78.0C53.8 77.4 56.2 74.7 57.5 74.2C58.8 73.7 60.2 73.9 60.6 75.0C61.0 76.1 59.7 78.8 60.0 81.0C60.3 83.2 62.2 87.2 62.6 88.5" stroke="#e98c7e" stroke-width="4.2"/><path d="M63.5 88.6C64.2 88.0 66.5 86.1 68.0 85.0C69.5 83.9 71.8 82.7 72.6 82.2" stroke="#2a1512" stroke-width="6.5"/><path d="M63.5 88.6C64.2 88.0 66.5 86.1 68.0 85.0C69.5 83.9 71.8 82.7 72.6 82.2" stroke="#e98c7e" stroke-width="4.2"/><path d="M32.7 82.3C32.3 82.8 31.8 85.0 30.5 85.3C29.2 85.5 26.5 84.2 25.1 83.8C23.7 83.4 22.6 83.1 22.1 83.0" stroke="#2a1512" stroke-width="3.9"/><path d="M32.7 82.3C32.3 82.8 31.8 85.0 30.5 85.3C29.2 85.5 26.5 84.2 25.1 83.8C23.7 83.4 22.6 83.1 22.1 83.0" stroke="#e2968b" stroke-width="1.4"/><path d="M21.3 104.3C22.2 104.3 24.8 104.5 26.7 104.3C28.6 104.0 31.4 103.9 32.7 102.8C34.0 101.7 34.3 99.2 34.3 97.5C34.3 95.8 32.1 94.2 32.7 92.9C33.3 91.6 36.7 90.5 38.1 89.9C39.5 89.3 40.6 89.2 41.1 89.1" stroke="#2a1512" stroke-width="3.9"/><path d="M21.3 104.3C22.2 104.3 24.8 104.5 26.7 104.3C28.6 104.0 31.4 103.9 32.7 102.8C34.0 101.7 34.3 99.2 34.3 97.5C34.3 95.8 32.1 94.2 32.7 92.9C33.3 91.6 36.7 90.5 38.1 89.9C39.5 89.3 40.6 89.2 41.1 89.1" stroke="#e2968b" stroke-width="1.4"/><path d="M36.6 95.2L44.9 96.0" stroke="#2a1512" stroke-width="3.8"/><path d="M36.6 95.2L44.9 96.0" stroke="#e98c7e" stroke-width="1.5"/><path d="M67.0 91.4C67.2 92.4 68.9 95.7 68.5 97.5C68.1 99.3 66.2 101.1 64.7 102.0C63.2 102.9 61.0 103.3 59.4 102.8C57.8 102.3 56.3 99.6 54.8 99.0C53.3 98.4 51.8 98.4 50.3 99.0C48.8 99.6 47.0 102.5 45.7 102.8C44.4 103.0 43.2 100.9 42.7 100.5" stroke="#2a1512" stroke-width="3.9"/><path d="M67.0 91.4C67.2 92.4 68.9 95.7 68.5 97.5C68.1 99.3 66.2 101.1 64.7 102.0C63.2 102.9 61.0 103.3 59.4 102.8C57.8 102.3 56.3 99.6 54.8 99.0C53.3 98.4 51.8 98.4 50.3 99.0C48.8 99.6 47.0 102.5 45.7 102.8C44.4 103.0 43.2 100.9 42.7 100.5" stroke="#e2968b" stroke-width="1.4"/><path d="M20.3 83.7L20.7 84.8L21.2 86.5L21.8 88.4L22.4 90.4L23.0 92.1L23.6 93.7L24.1 95.1L24.6 96.5L25.0 97.6L25.2 98.5L23.8 98.7L24.8 99.3L25.5 100.0L26.1 101.0L26.6 101.9L26.9 102.5L26.9 102.5L27.5 102.1L28.3 101.4L29.2 100.6L30.2 99.3L31.0 97.7L29.6 97.9L29.2 96.4L28.8 95.0L28.2 93.6L27.7 92.1L27.2 90.7L26.6 89.0L26.0 87.1L25.4 85.2L24.9 83.5L24.5 82.3Z" fill="#e98c7e" stroke="#2a1512" stroke-width="1.45"/></g>
</defs>
<text x="51.3" y="73.8" font-size="34" font-weight="bold">(a)</text>
<text x="79.5" y="185.2" font-size="33" font-weight="bold">x</text>
<text x="82.0" y="183.7" font-size="33" font-weight="bold">ˆ</text>
<text x="99.0" y="193.2" font-size="19.5">1</text>
<text x="80.0" y="392.0" font-size="33" font-weight="bold">x</text>
<text x="99.0" y="400.0" font-size="21">t</text>
<use href="#pb" x="151.0" y="106.0"/>
<use href="#pb" x="535.2" y="106.0"/>
<use href="#pb" x="859.5" y="106.0"/>
<use href="#pb" x="151.0" y="316.0"/>
<use href="#pb" x="535.2" y="316.0"/>
<use href="#pb" x="859.5" y="316.0"/>
<use href="#pb" x="1062.5" y="316.0"/>
<use href="#pb" x="1266.5" y="316.0"/>
<use href="#pg" x="205.0" y="38.5" transform="rotate(2 245 110)"/>
<use href="#pg2" x="199.5" y="34.5" transform="rotate(-2.5 245 110)"/>
<use href="#pg" x="203.0" y="40.0"/>
<use href="#pd" x="202.0" y="35.5"/>
<use href="#pd" x="585.0" y="35.0"/>
<use href="#pd" x="908.5" y="35.0"/>
<use href="#p0" x="285.0" y="360.0"/>
<use href="#p4" x="635.0" y="305.0"/>
<use href="#p8" x="925.0" y="260.0"/>
<g transform="translate(1131.7 314.7) rotate(8.5) translate(-8.1 -64.8)"><use href="#pd"/></g>
<use href="#pd" x="1316.0" y="246.0"/>
<path d="M208.4 309.7L208.4 258.6" fill="none" stroke="#000" stroke-width="4.10"/>
<path d="M208.4 246.8L199.8 261.6L217.0 261.6 Z" fill="#000"/>
<text x="200.0" y="290.0" font-size="24" text-anchor="end">AF2Dock</text>
<path d="M592.6 309.7L592.6 258.6" fill="none" stroke="#000" stroke-width="4.10"/>
<path d="M592.6 246.8L584.0 261.6L601.2 261.6 Z" fill="#000"/>
<text x="581.0" y="290.0" font-size="24" text-anchor="end">AF2Dock</text>
<path d="M913.0 309.7L913.0 258.6" fill="none" stroke="#000" stroke-width="4.10"/>
<path d="M913.0 246.8L904.4 261.6L921.6 261.6 Z" fill="#000"/>
<text x="902.0" y="290.0" font-size="24" text-anchor="end">AF2Dock</text>
<path d="M274.0 177.0L425.7 177.0L425.7 361.5" fill="none" stroke="#000" stroke-width="4.10"/>
<path d="M425.7 372.9L417.6 358.7L433.8 358.7 Z" fill="#000"/>
<path d="M650.0 177.0L749.7 177.0L749.7 361.5" fill="none" stroke="#000" stroke-width="4.10"/>
<path d="M749.7 372.9L741.6 358.7L757.8 358.7 Z" fill="#000"/>
<path d="M982.0 177.0L1029.6 177.0L1029.6 361.7" fill="none" stroke="#000" stroke-width="4.10"/>
<path d="M1029.6 373.1L1021.5 358.9L1037.7 358.9 Z" fill="#000"/>
<path d="M404.7 377.4L444.0 377.4" fill="none" stroke="#000" stroke-width="4.10"/>
<path d="M455.8 377.4L441.1 369.2L441.1 385.6 Z" fill="#000"/>
<path d="M495.1 377.4L525.9 377.4" fill="none" stroke="#000" stroke-width="4.10"/>
<path d="M537.7 377.4L523.0 369.2L523.0 385.6 Z" fill="#000"/>
<path d="M728.8 377.4L767.9 377.4" fill="none" stroke="#000" stroke-width="4.10"/>
<path d="M779.7 377.4L765.0 369.2L765.0 385.6 Z" fill="#000"/>
<path d="M819.2 377.4L850.3 377.4" fill="none" stroke="#000" stroke-width="4.10"/>
<path d="M862.1 377.4L847.4 369.2L847.4 385.6 Z" fill="#000"/>
<path d="M1009.3 377.4L1049.0 377.4" fill="none" stroke="#000" stroke-width="4.10"/>
<path d="M1060.8 377.4L1046.1 369.2L1046.1 385.6 Z" fill="#000"/>
<path d="M1203.6 377.4L1243.1 377.4" fill="none" stroke="#000" stroke-width="4.10"/>
<path d="M1254.9 377.4L1240.2 369.2L1240.2 385.6 Z" fill="#000"/>
<rect x="463.1" y="374.2" width="4.8" height="4.5" fill="#000"/>
<rect x="471.7" y="374.2" width="4.8" height="4.5" fill="#000"/>
<rect x="480.3" y="374.2" width="4.8" height="4.5" fill="#000"/>
<rect x="787.2" y="374.2" width="4.8" height="4.5" fill="#000"/>
<rect x="795.8" y="374.2" width="4.8" height="4.5" fill="#000"/>
<rect x="804.4" y="374.2" width="4.8" height="4.5" fill="#000"/>
<text x="444.7" y="417.2" font-size="24" text-anchor="middle">Interpolate</text>
<text x="781.0" y="417.2" font-size="24" text-anchor="middle">Interpolate</text>
<text x="1015.5" y="417.2" font-size="24" text-anchor="middle">Interpolate</text>
<text x="1224.2" y="417.2" font-size="24" text-anchor="middle">AF2Dock</text>
<text x="269.0" y="487.0" font-size="24" text-anchor="middle">t = 0.0</text>
<text x="641.0" y="487.0" font-size="24" text-anchor="middle">t = 0.4</text>
<text x="921.5" y="487.0" font-size="24" text-anchor="middle">t = 0.8</text>
<text x="1123.0" y="487.0" font-size="24" text-anchor="middle">t = 0.9</text>
<text x="1327.5" y="487.0" font-size="24" text-anchor="middle">t = 1.0</text>
<text x="49.8" y="537.2" font-size="34" font-weight="bold">(b)</text>
<text x="163.6" y="574.7" font-size="24" text-anchor="middle">Protein</text>
<text x="163.6" y="603.8" font-size="24" text-anchor="middle">sequences</text>
<text x="62.6" y="640.0" font-size="20.5" fill="#5f86b4" font-family="'DejaVu Sans Mono', 'Liberation Mono', monospace" letter-spacing="0.14">QVQLQESGGGLVQPG...</text>
<text x="62.6" y="664.6" font-size="20.5" fill="#b5655c" font-family="'DejaVu Sans Mono', 'Liberation Mono', monospace" letter-spacing="0.14">TDDNALAYYNTTKGG...</text>
<text x="358.6" y="594.2" font-size="24" text-anchor="middle">Initial embed</text>
<path d="M288.6 610.0L430.0 610.0" fill="none" stroke="#000" stroke-width="3.70"/>
<path d="M441.4 610.0L427.1 602.0L427.1 618.0 Z" fill="#000"/>
<path d="M290.5 631.3L398.0 631.3L398.0 956.1" fill="none" stroke="#000" stroke-width="3.70"/>
<path d="M398.0 967.5L390.0 953.2L406.0 953.2 Z" fill="#000"/>
<path d="M121.0 689.6L121.0 788.0L181.1 788.0" fill="none" stroke="#000" stroke-width="3.70"/>
<path d="M192.5 788.0L178.2 780.0L178.2 796.0 Z" fill="#000"/>
<text x="151.0" y="820.2" font-size="24" text-anchor="middle">ESM-C</text>
<text x="151.0" y="849.3" font-size="24" text-anchor="middle">600M</text>
<text x="273.5" y="722.5" font-size="24" text-anchor="middle">ESM</text>
<text x="273.5" y="751.4" font-size="24" text-anchor="middle">embeddings</text>
<g stroke="#000" stroke-width="1.70">
<rect x="216.6" y="766.3" width="114.2" height="14.9" fill="#fff" stroke="none"/>
<rect x="216.60" y="766.30" width="14.27" height="14.90" fill="#5b92d2" stroke="none"/>
<rect x="230.87" y="766.30" width="14.27" height="14.90" fill="#5b92d2" stroke="none"/>
<rect x="245.14" y="766.30" width="14.27" height="14.90" fill="#5b92d2" stroke="none"/>
<rect x="259.41" y="766.30" width="14.27" height="14.90" fill="#5b92d2" stroke="none"/>
<rect x="273.68" y="766.30" width="14.27" height="14.90" fill="#5b92d2" stroke="none"/>
<rect x="287.95" y="766.30" width="14.27" height="14.90" fill="#5b92d2" stroke="none"/>
<rect x="302.22" y="766.30" width="14.27" height="14.90" fill="#5b92d2" stroke="none"/>
<rect x="316.49" y="766.30" width="14.27" height="14.90" fill="#5b92d2" stroke="none"/>
<path d="M216.60 766.30V781.20M230.87 766.30V781.20M245.14 766.30V781.20M259.41 766.30V781.20M273.68 766.30V781.20M287.95 766.30V781.20M302.22 766.30V781.20M316.49 766.30V781.20M330.76 766.30V781.20M216.60 766.30H330.76M216.60 781.20H330.76" fill="none" stroke-linecap="square"/>
</g>
<g stroke="#000" stroke-width="1.70">
<rect x="216.6" y="795.9" width="114.2" height="14.9" fill="#fff" stroke="none"/>
<rect x="216.60" y="795.90" width="14.27" height="14.90" fill="#c46b60" stroke="none"/>
<rect x="230.87" y="795.90" width="14.27" height="14.90" fill="#c46b60" stroke="none"/>
<rect x="245.14" y="795.90" width="14.27" height="14.90" fill="#c46b60" stroke="none"/>
<rect x="259.41" y="795.90" width="14.27" height="14.90" fill="#c46b60" stroke="none"/>
<rect x="273.68" y="795.90" width="14.27" height="14.90" fill="#c46b60" stroke="none"/>
<rect x="287.95" y="795.90" width="14.27" height="14.90" fill="#c46b60" stroke="none"/>
<rect x="302.22" y="795.90" width="14.27" height="14.90" fill="#c46b60" stroke="none"/>
<rect x="316.49" y="795.90" width="14.27" height="14.90" fill="#c46b60" stroke="none"/>
<path d="M216.60 795.90V810.80M230.87 795.90V810.80M245.14 795.90V810.80M259.41 795.90V810.80M273.68 795.90V810.80M287.95 795.90V810.80M302.22 795.90V810.80M316.49 795.90V810.80M330.76 795.90V810.80M216.60 795.90H330.76M216.60 810.80H330.76" fill="none" stroke-linecap="square"/>
</g>
<path d="M339.5 788.0L368.0 788.0L368.0 956.1" fill="none" stroke="#000" stroke-width="3.70"/>
<path d="M368.0 967.5L360.0 953.2L376.0 953.2 Z" fill="#000"/>
<text x="163.6" y="939.2" font-size="24" text-anchor="middle">Noisy complex</text>
<text x="163.6" y="968.6" font-size="24" text-anchor="middle">structure at t</text>
<use href="#pb" x="66.5" y="976.5"/>
<use href="#p4" x="165.6" y="964.8"/>
<text x="150.0" y="1135.5" font-size="33" font-weight="bold">x</text>
<text x="169.0" y="1143.5" font-size="21">t</text>
<path d="M267.0 1028.0L383.5 1028.0L383.5 982.9" fill="none" stroke="#000" stroke-width="3.70"/>
<path d="M383.5 971.5L375.5 985.8L391.5 985.8 Z" fill="#000"/>
<path d="M366.8 970.4L502.5 970.4" fill="none" stroke="#000" stroke-width="3.70"/>
<text x="517.0" y="534.3" font-size="24" text-anchor="middle">“MSA” repr.</text>
<g stroke="#000" stroke-width="1.70">
<rect x="457.2" y="542.2" width="113.9" height="44.2" fill="#fff" stroke="none"/>
<rect x="457.20" y="542.20" width="14.24" height="14.75" fill="#4f86c6" stroke="none"/>
<rect x="471.44" y="542.20" width="14.24" height="14.75" fill="#4f86c6" stroke="none"/>
<rect x="485.68" y="542.20" width="14.24" height="14.75" fill="#4f86c6" stroke="none"/>
<rect x="499.92" y="542.20" width="14.24" height="14.75" fill="#4f86c6" stroke="none"/>
<rect x="514.16" y="542.20" width="14.24" height="14.75" fill="#4f86c6" stroke="none"/>
<rect x="528.40" y="542.20" width="14.24" height="14.75" fill="#bf6356" stroke="none"/>
<rect x="542.64" y="542.20" width="14.24" height="14.75" fill="#bf6356" stroke="none"/>
<rect x="556.88" y="542.20" width="14.24" height="14.75" fill="#bf6356" stroke="none"/>
<rect x="457.20" y="556.95" width="14.24" height="14.75" fill="#c6d6ee" stroke="none"/>
<rect x="471.44" y="556.95" width="14.24" height="14.75" fill="#c6d6ee" stroke="none"/>
<rect x="485.68" y="556.95" width="14.24" height="14.75" fill="#c6d6ee" stroke="none"/>
<rect x="499.92" y="556.95" width="14.24" height="14.75" fill="#c6d6ee" stroke="none"/>
<rect x="514.16" y="556.95" width="14.24" height="14.75" fill="#c6d6ee" stroke="none"/>
<rect x="457.20" y="571.70" width="14.24" height="14.75" fill="#c6d6ee" stroke="none"/>
<rect x="471.44" y="571.70" width="14.24" height="14.75" fill="#c6d6ee" stroke="none"/>
<rect x="485.68" y="571.70" width="14.24" height="14.75" fill="#c6d6ee" stroke="none"/>
<rect x="499.92" y="571.70" width="14.24" height="14.75" fill="#c6d6ee" stroke="none"/>
<rect x="514.16" y="571.70" width="14.24" height="14.75" fill="#c6d6ee" stroke="none"/>
<rect x="528.40" y="556.95" width="14.24" height="14.75" fill="#edd1c9" stroke="none"/>
<rect x="542.64" y="556.95" width="14.24" height="14.75" fill="#edd1c9" stroke="none"/>
<rect x="556.88" y="556.95" width="14.24" height="14.75" fill="#edd1c9" stroke="none"/>
<rect x="528.40" y="571.70" width="14.24" height="14.75" fill="#edd1c9" stroke="none"/>
<rect x="542.64" y="571.70" width="14.24" height="14.75" fill="#edd1c9" stroke="none"/>
<rect x="556.88" y="571.70" width="14.24" height="14.75" fill="#edd1c9" stroke="none"/>
<path d="M457.20 542.20V586.45M471.44 542.20V586.45M485.68 542.20V586.45M499.92 542.20V586.45M514.16 542.20V586.45M528.40 542.20V586.45M542.64 542.20V586.45M556.88 542.20V586.45M571.12 542.20V586.45M457.20 542.20H571.12M457.20 556.95H571.12M457.20 571.70H571.12M457.20 586.45H571.12" fill="none" stroke-linecap="square"/>
</g>
<text x="517.0" y="613.2" font-size="24" text-anchor="middle">Pair repr.</text>
<g stroke="#000" stroke-width="1.70">
<rect x="457.2" y="624.3" width="113.9" height="112.8" fill="#fff" stroke="none"/>
<rect x="457.20" y="624.30" width="14.24" height="14.10" fill="#c6d6ee" stroke="none"/>
<rect x="471.44" y="624.30" width="14.24" height="14.10" fill="#c6d6ee" stroke="none"/>
<rect x="485.68" y="624.30" width="14.24" height="14.10" fill="#c6d6ee" stroke="none"/>
<rect x="499.92" y="624.30" width="14.24" height="14.10" fill="#c6d6ee" stroke="none"/>
<rect x="514.16" y="624.30" width="14.24" height="14.10" fill="#c6d6ee" stroke="none"/>
<rect x="457.20" y="638.40" width="14.24" height="14.10" fill="#c6d6ee" stroke="none"/>
<rect x="471.44" y="638.40" width="14.24" height="14.10" fill="#c6d6ee" stroke="none"/>
<rect x="485.68" y="638.40" width="14.24" height="14.10" fill="#c6d6ee" stroke="none"/>
<rect x="499.92" y="638.40" width="14.24" height="14.10" fill="#c6d6ee" stroke="none"/>
<rect x="514.16" y="638.40" width="14.24" height="14.10" fill="#c6d6ee" stroke="none"/>
<rect x="457.20" y="652.50" width="14.24" height="14.10" fill="#c6d6ee" stroke="none"/>
<rect x="471.44" y="652.50" width="14.24" height="14.10" fill="#c6d6ee" stroke="none"/>
<rect x="485.68" y="652.50" width="14.24" height="14.10" fill="#c6d6ee" stroke="none"/>
<rect x="499.92" y="652.50" width="14.24" height="14.10" fill="#c6d6ee" stroke="none"/>
<rect x="514.16" y="652.50" width="14.24" height="14.10" fill="#c6d6ee" stroke="none"/>
<rect x="457.20" y="666.60" width="14.24" height="14.10" fill="#c6d6ee" stroke="none"/>
<rect x="471.44" y="666.60" width="14.24" height="14.10" fill="#c6d6ee" stroke="none"/>
<rect x="485.68" y="666.60" width="14.24" height="14.10" fill="#c6d6ee" stroke="none"/>
<rect x="499.92" y="666.60" width="14.24" height="14.10" fill="#c6d6ee" stroke="none"/>
<rect x="514.16" y="666.60" width="14.24" height="14.10" fill="#c6d6ee" stroke="none"/>
<rect x="457.20" y="680.70" width="14.24" height="14.10" fill="#c6d6ee" stroke="none"/>
<rect x="471.44" y="680.70" width="14.24" height="14.10" fill="#c6d6ee" stroke="none"/>
<rect x="485.68" y="680.70" width="14.24" height="14.10" fill="#c6d6ee" stroke="none"/>
<rect x="499.92" y="680.70" width="14.24" height="14.10" fill="#c6d6ee" stroke="none"/>
<rect x="514.16" y="680.70" width="14.24" height="14.10" fill="#c6d6ee" stroke="none"/>
<rect x="528.40" y="694.80" width="14.24" height="14.10" fill="#edd1c9" stroke="none"/>
<rect x="542.64" y="694.80" width="14.24" height="14.10" fill="#edd1c9" stroke="none"/>
<rect x="556.88" y="694.80" width="14.24" height="14.10" fill="#edd1c9" stroke="none"/>
<rect x="528.40" y="708.90" width="14.24" height="14.10" fill="#edd1c9" stroke="none"/>
<rect x="542.64" y="708.90" width="14.24" height="14.10" fill="#edd1c9" stroke="none"/>
<rect x="556.88" y="708.90" width="14.24" height="14.10" fill="#edd1c9" stroke="none"/>
<rect x="528.40" y="723.00" width="14.24" height="14.10" fill="#edd1c9" stroke="none"/>
<rect x="542.64" y="723.00" width="14.24" height="14.10" fill="#edd1c9" stroke="none"/>
<rect x="556.88" y="723.00" width="14.24" height="14.10" fill="#edd1c9" stroke="none"/>
<path d="M457.20 624.30V737.10M471.44 624.30V737.10M485.68 624.30V737.10M499.92 624.30V737.10M514.16 624.30V737.10M528.40 624.30V737.10M542.64 624.30V737.10M556.88 624.30V737.10M571.12 624.30V737.10M457.20 624.30H571.12M457.20 638.40H571.12M457.20 652.50H571.12M457.20 666.60H571.12M457.20 680.70H571.12M457.20 694.80H571.12M457.20 708.90H571.12M457.20 723.00H571.12M457.20 737.10H571.12" fill="none" stroke-linecap="square"/>
</g>
<path d="M478.5 740.4L478.5 773.5L427.5 773.5L427.5 956.1" fill="none" stroke="#000" stroke-width="3.70"/>
<path d="M427.5 967.5L419.5 953.2L435.5 953.2 Z" fill="#000"/>
<path d="M552.0 740.4L552.0 773.5L760.6 773.5L760.6 848.1" fill="none" stroke="#000" stroke-width="3.70"/>
<path d="M760.6 859.5L752.6 845.2L768.6 845.2 Z" fill="#000"/>
<path d="M575.2 564.3L637.2 564.3" fill="none" stroke="#000" stroke-width="3.70"/>
<path d="M648.6 564.3L634.3 556.3L634.3 572.3 Z" fill="#000"/>
<rect x="656.8" y="535.7" width="140.1" height="139.6" fill="#fff" stroke="#000" stroke-width="1.7"/>
<text x="727.0" y="612.1" font-size="24" text-anchor="middle">Evoformer</text>
<path d="M1308.0 847.5L1308.0 751.2L599.5 751.2L599.5 651.8L637.2 651.8" fill="none" stroke="#000" stroke-width="3.70"/>
<path d="M648.6 651.8L634.3 643.8L634.3 659.8 Z" fill="#000"/>
<path d="M805.0 564.5L860.1 564.5" fill="none" stroke="#000" stroke-width="3.70"/>
<path d="M871.5 564.5L857.2 556.5L857.2 572.5 Z" fill="#000"/>
<path d="M805.0 652.0L860.1 652.0" fill="none" stroke="#000" stroke-width="3.70"/>
<path d="M871.5 652.0L857.2 644.0L857.2 660.0 Z" fill="#000"/>
<text x="940.0" y="544.0" font-size="24" text-anchor="middle">Single repr.</text>
<g stroke="#000" stroke-width="1.70">
<rect x="883.2" y="556.6" width="113.9" height="15.4" fill="#fff" stroke="none"/>
<rect x="883.20" y="556.60" width="14.24" height="15.40" fill="#5b92d2" stroke="none"/>
<rect x="897.44" y="556.60" width="14.24" height="15.40" fill="#5b92d2" stroke="none"/>
<rect x="911.68" y="556.60" width="14.24" height="15.40" fill="#5b92d2" stroke="none"/>
<rect x="925.92" y="556.60" width="14.24" height="15.40" fill="#5b92d2" stroke="none"/>
<rect x="940.16" y="556.60" width="14.24" height="15.40" fill="#5b92d2" stroke="none"/>
<rect x="954.40" y="556.60" width="14.24" height="15.40" fill="#c46b60" stroke="none"/>
<rect x="968.64" y="556.60" width="14.24" height="15.40" fill="#c46b60" stroke="none"/>
<rect x="982.88" y="556.60" width="14.24" height="15.40" fill="#c46b60" stroke="none"/>
<path d="M883.20 556.60V572.00M897.44 556.60V572.00M911.68 556.60V572.00M925.92 556.60V572.00M940.16 556.60V572.00M954.40 556.60V572.00M968.64 556.60V572.00M982.88 556.60V572.00M997.12 556.60V572.00M883.20 556.60H997.12M883.20 572.00H997.12" fill="none" stroke-linecap="square"/>
</g>
<text x="940.0" y="613.2" font-size="24" text-anchor="middle">Pair repr.</text>
<g stroke="#000" stroke-width="1.70">
<rect x="883.2" y="623.9" width="113.9" height="113.6" fill="#fff" stroke="none"/>
<rect x="883.20" y="623.90" width="14.24" height="14.20" fill="#5b92d2" stroke="none"/>
<rect x="897.44" y="623.90" width="14.24" height="14.20" fill="#5b92d2" stroke="none"/>
<rect x="911.68" y="623.90" width="14.24" height="14.20" fill="#5b92d2" stroke="none"/>
<rect x="925.92" y="623.90" width="14.24" height="14.20" fill="#5b92d2" stroke="none"/>
<rect x="940.16" y="623.90" width="14.24" height="14.20" fill="#5b92d2" stroke="none"/>
<rect x="883.20" y="638.10" width="14.24" height="14.20" fill="#5b92d2" stroke="none"/>
<rect x="897.44" y="638.10" width="14.24" height="14.20" fill="#5b92d2" stroke="none"/>
<rect x="911.68" y="638.10" width="14.24" height="14.20" fill="#5b92d2" stroke="none"/>
<rect x="925.92" y="638.10" width="14.24" height="14.20" fill="#5b92d2" stroke="none"/>
<rect x="940.16" y="638.10" width="14.24" height="14.20" fill="#5b92d2" stroke="none"/>
<rect x="883.20" y="652.30" width="14.24" height="14.20" fill="#5b92d2" stroke="none"/>
<rect x="897.44" y="652.30" width="14.24" height="14.20" fill="#5b92d2" stroke="none"/>
<rect x="911.68" y="652.30" width="14.24" height="14.20" fill="#5b92d2" stroke="none"/>
<rect x="925.92" y="652.30" width="14.24" height="14.20" fill="#5b92d2" stroke="none"/>
<rect x="940.16" y="652.30" width="14.24" height="14.20" fill="#5b92d2" stroke="none"/>
<rect x="883.20" y="666.50" width="14.24" height="14.20" fill="#5b92d2" stroke="none"/>
<rect x="897.44" y="666.50" width="14.24" height="14.20" fill="#5b92d2" stroke="none"/>
<rect x="911.68" y="666.50" width="14.24" height="14.20" fill="#5b92d2" stroke="none"/>
<rect x="925.92" y="666.50" width="14.24" height="14.20" fill="#5b92d2" stroke="none"/>
<rect x="940.16" y="666.50" width="14.24" height="14.20" fill="#5b92d2" stroke="none"/>
<rect x="883.20" y="680.70" width="14.24" height="14.20" fill="#5b92d2" stroke="none"/>
<rect x="897.44" y="680.70" width="14.24" height="14.20" fill="#5b92d2" stroke="none"/>
<rect x="911.68" y="680.70" width="14.24" height="14.20" fill="#5b92d2" stroke="none"/>
<rect x="925.92" y="680.70" width="14.24" height="14.20" fill="#5b92d2" stroke="none"/>
<rect x="940.16" y="680.70" width="14.24" height="14.20" fill="#5b92d2" stroke="none"/>
<rect x="954.40" y="694.90" width="14.24" height="14.20" fill="#c46b60" stroke="none"/>
<rect x="968.64" y="694.90" width="14.24" height="14.20" fill="#c46b60" stroke="none"/>
<rect x="982.88" y="694.90" width="14.24" height="14.20" fill="#c46b60" stroke="none"/>
<rect x="954.40" y="709.10" width="14.24" height="14.20" fill="#c46b60" stroke="none"/>
<rect x="968.64" y="709.10" width="14.24" height="14.20" fill="#c46b60" stroke="none"/>
<rect x="982.88" y="709.10" width="14.24" height="14.20" fill="#c46b60" stroke="none"/>
<rect x="954.40" y="723.30" width="14.24" height="14.20" fill="#c46b60" stroke="none"/>
<rect x="968.64" y="723.30" width="14.24" height="14.20" fill="#c46b60" stroke="none"/>
<rect x="982.88" y="723.30" width="14.24" height="14.20" fill="#c46b60" stroke="none"/>
<rect x="968.64" y="638.10" width="14.24" height="14.20" fill="#c3c3c5" stroke="none"/>
<rect x="968.64" y="652.30" width="14.24" height="14.20" fill="#8b8b8d" stroke="none"/>
<rect x="968.64" y="666.50" width="14.24" height="14.20" fill="#8b8b8d" stroke="none"/>
<rect x="897.44" y="709.10" width="14.24" height="14.20" fill="#c3c3c5" stroke="none"/>
<rect x="911.68" y="709.10" width="14.24" height="14.20" fill="#8b8b8d" stroke="none"/>
<rect x="925.92" y="709.10" width="14.24" height="14.20" fill="#8b8b8d" stroke="none"/>
<path d="M883.20 623.90V737.50M897.44 623.90V737.50M911.68 623.90V737.50M925.92 623.90V737.50M940.16 623.90V737.50M954.40 623.90V737.50M968.64 623.90V737.50M982.88 623.90V737.50M997.12 623.90V737.50M883.20 623.90H997.12M883.20 638.10H997.12M883.20 652.30H997.12M883.20 666.50H997.12M883.20 680.70H997.12M883.20 694.90H997.12M883.20 709.10H997.12M883.20 723.30H997.12M883.20 737.50H997.12" fill="none" stroke-linecap="square"/>
</g>
<path d="M1012.0 564.5L1051.4 564.5" fill="none" stroke="#000" stroke-width="3.70"/>
<path d="M1062.8 564.5L1048.5 556.5L1048.5 572.5 Z" fill="#000"/>
<path d="M1012.0 652.0L1051.4 652.0" fill="none" stroke="#000" stroke-width="3.70"/>
<path d="M1062.8 652.0L1048.5 644.0L1048.5 660.0 Z" fill="#000"/>
<rect x="1070.4" y="539.5" width="140.1" height="139.6" fill="#fff" stroke="#000" stroke-width="1.7"/>
<text x="1142.0" y="603.0" font-size="24" text-anchor="middle">Structure</text>
<text x="1142.0" y="631.9" font-size="24" text-anchor="middle">module</text>
<path d="M1217.0 610.0L1256.6 610.0" fill="none" stroke="#000" stroke-width="3.70"/>
<path d="M1268.0 610.0L1253.7 602.0L1253.7 618.0 Z" fill="#000"/>
<use href="#pb" x="1267.0" y="569.0"/>
<use href="#pd" x="1315.5" y="499.5"/>
<text x="1316.0" y="734.8" font-size="33" font-weight="bold">x</text>
<text x="1318.5" y="733.3" font-size="33" font-weight="bold">ˆ</text>
<text x="1335.5" y="742.8" font-size="19.5">1</text>
<path d="M502.5 876.5L502.5 1060.3" fill="none" stroke="#000" stroke-width="3.70"/>
<path d="M366.8 970.4L502.5 970.4" fill="none" stroke="#000" stroke-width="3.70"/>
<path d="M502.5 878.0L502.5 876.5L562.6 876.5" fill="none" stroke="#000" stroke-width="3.70"/>
<path d="M574.0 876.5L559.7 868.5L559.7 884.5 Z" fill="#000"/>
<path d="M502.5 1058.0L502.5 1060.3L560.6 1060.3" fill="none" stroke="#000" stroke-width="3.70"/>
<path d="M572.0 1060.3L557.7 1052.3L557.7 1068.3 Z" fill="#000"/>
<rect x="579.4" y="807.3" width="139.6" height="138.7" fill="#fff" stroke="#000" stroke-width="1.7"/>
<text x="649.2" y="868.6" font-size="24" text-anchor="middle">Structure</text>
<text x="649.2" y="898.0" font-size="24" text-anchor="middle">embedder</text>
<rect x="579.4" y="991.4" width="139.6" height="138.7" fill="#fff" stroke="#000" stroke-width="1.7"/>
<text x="649.2" y="1053.2" font-size="24" text-anchor="middle">Cond.</text>
<text x="649.2" y="1082.9" font-size="24" text-anchor="middle">embedder</text>
<text x="366.5" y="1104.8" font-size="24">Time t</text>
<path d="M444.8 1096.6L562.6 1096.6" fill="none" stroke="#000" stroke-width="3.70"/>
<path d="M574.0 1096.6L559.7 1088.6L559.7 1104.6 Z" fill="#000"/>
<path d="M723.0 876.8L745.0 876.8" fill="none" stroke="#000" stroke-width="3.70"/>
<circle cx="761.0" cy="877.0" r="17.3" fill="#fff" stroke="#000" stroke-width="1.9"/>
<path d="M751.5 877.0H770.5M761.0 867.5V886.5" stroke="#000" stroke-width="2.8" fill="none"/>
<path d="M778.3 876.8L796.3 876.8" fill="none" stroke="#000" stroke-width="3.70"/>
<path d="M807.7 876.8L793.4 868.8L793.4 884.8 Z" fill="#000"/>
<text x="875.0" y="820.8" font-size="24" text-anchor="middle">Noisy pair repr.</text>
<g stroke="#000" stroke-width="1.70">
<rect x="810.7" y="833.2" width="113.2" height="112.6" fill="#fff" stroke="none"/>
<rect x="810.70" y="833.20" width="14.15" height="14.08" fill="#5b92d2" stroke="none"/>
<rect x="824.85" y="833.20" width="14.15" height="14.08" fill="#5b92d2" stroke="none"/>
<rect x="839.00" y="833.20" width="14.15" height="14.08" fill="#5b92d2" stroke="none"/>
<rect x="853.15" y="833.20" width="14.15" height="14.08" fill="#5b92d2" stroke="none"/>
<rect x="867.30" y="833.20" width="14.15" height="14.08" fill="#5b92d2" stroke="none"/>
<rect x="810.70" y="847.28" width="14.15" height="14.08" fill="#5b92d2" stroke="none"/>
<rect x="824.85" y="847.28" width="14.15" height="14.08" fill="#5b92d2" stroke="none"/>
<rect x="839.00" y="847.28" width="14.15" height="14.08" fill="#5b92d2" stroke="none"/>
<rect x="853.15" y="847.28" width="14.15" height="14.08" fill="#5b92d2" stroke="none"/>
<rect x="867.30" y="847.28" width="14.15" height="14.08" fill="#5b92d2" stroke="none"/>
<rect x="810.70" y="861.36" width="14.15" height="14.08" fill="#5b92d2" stroke="none"/>
<rect x="824.85" y="861.36" width="14.15" height="14.08" fill="#5b92d2" stroke="none"/>
<rect x="839.00" y="861.36" width="14.15" height="14.08" fill="#5b92d2" stroke="none"/>
<rect x="853.15" y="861.36" width="14.15" height="14.08" fill="#5b92d2" stroke="none"/>
<rect x="867.30" y="861.36" width="14.15" height="14.08" fill="#5b92d2" stroke="none"/>
<rect x="810.70" y="875.44" width="14.15" height="14.08" fill="#5b92d2" stroke="none"/>
<rect x="824.85" y="875.44" width="14.15" height="14.08" fill="#5b92d2" stroke="none"/>
<rect x="839.00" y="875.44" width="14.15" height="14.08" fill="#5b92d2" stroke="none"/>
<rect x="853.15" y="875.44" width="14.15" height="14.08" fill="#5b92d2" stroke="none"/>
<rect x="867.30" y="875.44" width="14.15" height="14.08" fill="#5b92d2" stroke="none"/>
<rect x="810.70" y="889.52" width="14.15" height="14.08" fill="#5b92d2" stroke="none"/>
<rect x="824.85" y="889.52" width="14.15" height="14.08" fill="#5b92d2" stroke="none"/>
<rect x="839.00" y="889.52" width="14.15" height="14.08" fill="#5b92d2" stroke="none"/>
<rect x="853.15" y="889.52" width="14.15" height="14.08" fill="#5b92d2" stroke="none"/>
<rect x="867.30" y="889.52" width="14.15" height="14.08" fill="#5b92d2" stroke="none"/>
<rect x="881.45" y="903.60" width="14.15" height="14.08" fill="#c46b60" stroke="none"/>
<rect x="895.60" y="903.60" width="14.15" height="14.08" fill="#c46b60" stroke="none"/>
<rect x="909.75" y="903.60" width="14.15" height="14.08" fill="#c46b60" stroke="none"/>
<rect x="881.45" y="917.68" width="14.15" height="14.08" fill="#c46b60" stroke="none"/>
<rect x="895.60" y="917.68" width="14.15" height="14.08" fill="#c46b60" stroke="none"/>
<rect x="909.75" y="917.68" width="14.15" height="14.08" fill="#c46b60" stroke="none"/>
<rect x="881.45" y="931.76" width="14.15" height="14.08" fill="#c46b60" stroke="none"/>
<rect x="895.60" y="931.76" width="14.15" height="14.08" fill="#c46b60" stroke="none"/>
<rect x="909.75" y="931.76" width="14.15" height="14.08" fill="#c46b60" stroke="none"/>
<rect x="909.75" y="847.28" width="14.15" height="14.08" fill="#d2d2d2" stroke="none"/>
<rect x="895.60" y="861.36" width="14.15" height="14.08" fill="#dedede" stroke="none"/>
<rect x="909.75" y="861.36" width="14.15" height="14.08" fill="#cacaca" stroke="none"/>
<rect x="839.00" y="917.68" width="14.15" height="14.08" fill="#dcdcdc" stroke="none"/>
<rect x="824.85" y="931.76" width="14.15" height="14.08" fill="#d0d0d0" stroke="none"/>
<rect x="839.00" y="931.76" width="14.15" height="14.08" fill="#c4c4c4" stroke="none"/>
<path d="M810.70 833.20V945.84M824.85 833.20V945.84M839.00 833.20V945.84M853.15 833.20V945.84M867.30 833.20V945.84M881.45 833.20V945.84M895.60 833.20V945.84M909.75 833.20V945.84M923.90 833.20V945.84M810.70 833.20H923.90M810.70 847.28H923.90M810.70 861.36H923.90M810.70 875.44H923.90M810.70 889.52H923.90M810.70 903.60H923.90M810.70 917.68H923.90M810.70 931.76H923.90M810.70 945.84H923.90" fill="none" stroke-linecap="square"/>
</g>
<text x="872.0" y="980.2" font-size="24" text-anchor="middle">Pair cond.</text>
<g stroke="#000" stroke-width="1.70">
<rect x="810.4" y="990.9" width="113.8" height="112.8" fill="#fff" stroke="none"/>
<rect x="810.40" y="990.90" width="14.22" height="14.10" fill="#6a9bd8" stroke="none"/>
<rect x="824.62" y="990.90" width="14.22" height="14.10" fill="#6a9bd8" stroke="none"/>
<rect x="838.84" y="990.90" width="14.22" height="14.10" fill="#6a9bd8" stroke="none"/>
<rect x="853.06" y="990.90" width="14.22" height="14.10" fill="#6a9bd8" stroke="none"/>
<rect x="867.28" y="990.90" width="14.22" height="14.10" fill="#6a9bd8" stroke="none"/>
<rect x="881.50" y="990.90" width="14.22" height="14.10" fill="#dfdfdf" stroke="none"/>
<rect x="895.72" y="990.90" width="14.22" height="14.10" fill="#dfdfdf" stroke="none"/>
<rect x="909.94" y="990.90" width="14.22" height="14.10" fill="#dfdfdf" stroke="none"/>
<rect x="810.40" y="1005.00" width="14.22" height="14.10" fill="#6a9bd8" stroke="none"/>
<rect x="824.62" y="1005.00" width="14.22" height="14.10" fill="#6a9bd8" stroke="none"/>
<rect x="838.84" y="1005.00" width="14.22" height="14.10" fill="#6a9bd8" stroke="none"/>
<rect x="853.06" y="1005.00" width="14.22" height="14.10" fill="#6a9bd8" stroke="none"/>
<rect x="867.28" y="1005.00" width="14.22" height="14.10" fill="#6a9bd8" stroke="none"/>
<rect x="881.50" y="1005.00" width="14.22" height="14.10" fill="#dfdfdf" stroke="none"/>
<rect x="895.72" y="1005.00" width="14.22" height="14.10" fill="#b9b9b9" stroke="none"/>
<rect x="909.94" y="1005.00" width="14.22" height="14.10" fill="#dfdfdf" stroke="none"/>
<rect x="810.40" y="1019.10" width="14.22" height="14.10" fill="#6a9bd8" stroke="none"/>
<rect x="824.62" y="1019.10" width="14.22" height="14.10" fill="#6a9bd8" stroke="none"/>
<rect x="838.84" y="1019.10" width="14.22" height="14.10" fill="#6a9bd8" stroke="none"/>
<rect x="853.06" y="1019.10" width="14.22" height="14.10" fill="#6a9bd8" stroke="none"/>
<rect x="867.28" y="1019.10" width="14.22" height="14.10" fill="#6a9bd8" stroke="none"/>
<rect x="881.50" y="1019.10" width="14.22" height="14.10" fill="#dfdfdf" stroke="none"/>
<rect x="895.72" y="1019.10" width="14.22" height="14.10" fill="#c9c9c9" stroke="none"/>
<rect x="909.94" y="1019.10" width="14.22" height="14.10" fill="#dfdfdf" stroke="none"/>
<rect x="810.40" y="1033.20" width="14.22" height="14.10" fill="#6a9bd8" stroke="none"/>
<rect x="824.62" y="1033.20" width="14.22" height="14.10" fill="#6a9bd8" stroke="none"/>
<rect x="838.84" y="1033.20" width="14.22" height="14.10" fill="#6a9bd8" stroke="none"/>
<rect x="853.06" y="1033.20" width="14.22" height="14.10" fill="#6a9bd8" stroke="none"/>
<rect x="867.28" y="1033.20" width="14.22" height="14.10" fill="#6a9bd8" stroke="none"/>
<rect x="881.50" y="1033.20" width="14.22" height="14.10" fill="#dfdfdf" stroke="none"/>
<rect x="895.72" y="1033.20" width="14.22" height="14.10" fill="#a9a9a9" stroke="none"/>
<rect x="909.94" y="1033.20" width="14.22" height="14.10" fill="#dfdfdf" stroke="none"/>
<rect x="810.40" y="1047.30" width="14.22" height="14.10" fill="#6a9bd8" stroke="none"/>
<rect x="824.62" y="1047.30" width="14.22" height="14.10" fill="#6a9bd8" stroke="none"/>
<rect x="838.84" y="1047.30" width="14.22" height="14.10" fill="#6a9bd8" stroke="none"/>
<rect x="853.06" y="1047.30" width="14.22" height="14.10" fill="#6a9bd8" stroke="none"/>
<rect x="867.28" y="1047.30" width="14.22" height="14.10" fill="#6a9bd8" stroke="none"/>
<rect x="881.50" y="1047.30" width="14.22" height="14.10" fill="#dfdfdf" stroke="none"/>
<rect x="895.72" y="1047.30" width="14.22" height="14.10" fill="#dfdfdf" stroke="none"/>
<rect x="909.94" y="1047.30" width="14.22" height="14.10" fill="#dfdfdf" stroke="none"/>
<rect x="810.40" y="1061.40" width="14.22" height="14.10" fill="#dfdfdf" stroke="none"/>
<rect x="824.62" y="1061.40" width="14.22" height="14.10" fill="#dfdfdf" stroke="none"/>
<rect x="838.84" y="1061.40" width="14.22" height="14.10" fill="#dfdfdf" stroke="none"/>
<rect x="853.06" y="1061.40" width="14.22" height="14.10" fill="#dfdfdf" stroke="none"/>
<rect x="867.28" y="1061.40" width="14.22" height="14.10" fill="#dfdfdf" stroke="none"/>
<rect x="881.50" y="1061.40" width="14.22" height="14.10" fill="#c9796d" stroke="none"/>
<rect x="895.72" y="1061.40" width="14.22" height="14.10" fill="#c9796d" stroke="none"/>
<rect x="909.94" y="1061.40" width="14.22" height="14.10" fill="#c9796d" stroke="none"/>
<rect x="810.40" y="1075.50" width="14.22" height="14.10" fill="#dfdfdf" stroke="none"/>
<rect x="824.62" y="1075.50" width="14.22" height="14.10" fill="#b2b2b2" stroke="none"/>
<rect x="838.84" y="1075.50" width="14.22" height="14.10" fill="#c4c4c4" stroke="none"/>
<rect x="853.06" y="1075.50" width="14.22" height="14.10" fill="#a9a9a9" stroke="none"/>
<rect x="867.28" y="1075.50" width="14.22" height="14.10" fill="#dfdfdf" stroke="none"/>
<rect x="881.50" y="1075.50" width="14.22" height="14.10" fill="#c9796d" stroke="none"/>
<rect x="895.72" y="1075.50" width="14.22" height="14.10" fill="#c9796d" stroke="none"/>
<rect x="909.94" y="1075.50" width="14.22" height="14.10" fill="#c9796d" stroke="none"/>
<rect x="810.40" y="1089.60" width="14.22" height="14.10" fill="#dfdfdf" stroke="none"/>
<rect x="824.62" y="1089.60" width="14.22" height="14.10" fill="#dfdfdf" stroke="none"/>
<rect x="838.84" y="1089.60" width="14.22" height="14.10" fill="#dfdfdf" stroke="none"/>
<rect x="853.06" y="1089.60" width="14.22" height="14.10" fill="#dfdfdf" stroke="none"/>
<rect x="867.28" y="1089.60" width="14.22" height="14.10" fill="#dfdfdf" stroke="none"/>
<rect x="881.50" y="1089.60" width="14.22" height="14.10" fill="#c9796d" stroke="none"/>
<rect x="895.72" y="1089.60" width="14.22" height="14.10" fill="#c9796d" stroke="none"/>
<rect x="909.94" y="1089.60" width="14.22" height="14.10" fill="#c9796d" stroke="none"/>
<path d="M810.40 990.90V1103.70M824.62 990.90V1103.70M838.84 990.90V1103.70M853.06 990.90V1103.70M867.28 990.90V1103.70M881.50 990.90V1103.70M895.72 990.90V1103.70M909.94 990.90V1103.70M924.16 990.90V1103.70M810.40 990.90H924.16M810.40 1005.00H924.16M810.40 1019.10H924.16M810.40 1033.20H924.16M810.40 1047.30H924.16M810.40 1061.40H924.16M810.40 1075.50H924.16M810.40 1089.60H924.16M810.40 1103.70H924.16" fill="none" stroke-linecap="square"/>
</g>
<path d="M722.0 1059.3L795.6 1059.3" fill="none" stroke="#000" stroke-width="3.70"/>
<path d="M807.0 1059.3L792.7 1051.3L792.7 1067.3 Z" fill="#000"/>
<path d="M928.6 913.7L995.6 913.7" fill="none" stroke="#000" stroke-width="3.70"/>
<path d="M1007.0 913.7L992.7 905.7L992.7 921.7 Z" fill="#000"/>
<path d="M928.6 1021.6L995.6 1021.6" fill="none" stroke="#000" stroke-width="3.70"/>
<path d="M1007.0 1021.6L992.7 1013.6L992.7 1029.6 Z" fill="#000"/>
<rect x="1012.7" y="896.4" width="140.2" height="139.3" fill="#fff" stroke="#000" stroke-width="1.7"/>
<text x="1083.0" y="958.5" font-size="24" text-anchor="middle">Pair</text>
<text x="1083.0" y="987.3" font-size="24" text-anchor="middle">denoiser</text>
<path d="M1157.0 969.0L1230.6 969.0" fill="none" stroke="#000" stroke-width="3.70"/>
<path d="M1242.0 969.0L1227.7 961.0L1227.7 977.0 Z" fill="#000"/>
<path d="M477.75 796.00H486.66M477.75 1140.80H486.66M497.00 796.00H507.70M497.00 1140.80H507.70M518.04 796.00H528.74M518.04 1140.80H528.74M539.08 796.00H549.78M539.08 1140.80H549.78M560.12 796.00H570.82M560.12 1140.80H570.82M581.16 796.00H591.86M581.16 1140.80H591.86M602.20 796.00H612.90M602.20 1140.80H612.90M623.24 796.00H633.94M623.24 1140.80H633.94M644.28 796.00H654.98M644.28 1140.80H654.98M665.32 796.00H676.02M665.32 1140.80H676.02M686.36 796.00H697.06M686.36 1140.80H697.06M707.40 796.00H718.10M707.40 1140.80H718.10M728.44 796.00H739.14M728.44 1140.80H739.14M749.48 796.00H760.18M749.48 1140.80H760.18M770.52 796.00H781.22M770.52 1140.80H781.22M791.56 796.00H802.26M791.56 1140.80H802.26M812.60 796.00H823.30M812.60 1140.80H823.30M833.64 796.00H844.34M833.64 1140.80H844.34M854.68 796.00H865.38M854.68 1140.80H865.38M875.72 796.00H886.42M875.72 1140.80H886.42M896.76 796.00H907.46M896.76 1140.80H907.46M917.80 796.00H928.50M917.80 1140.80H928.50M938.84 796.00H949.54M938.84 1140.80H949.54M959.88 796.00H970.58M959.88 1140.80H970.58M980.92 796.00H991.62M980.92 1140.80H991.62M1001.96 796.00H1012.66M1001.96 1140.80H1012.66M1023.00 796.00H1033.70M1023.00 1140.80H1033.70M1044.04 796.00H1054.74M1044.04 1140.80H1054.74M1065.08 796.00H1075.78M1065.08 1140.80H1075.78M1086.12 796.00H1096.82M1086.12 1140.80H1096.82M1107.16 796.00H1117.86M1107.16 1140.80H1117.86M1128.20 796.00H1138.90M1128.20 1140.80H1138.90M1149.24 796.00H1159.94M1149.24 1140.80H1159.94M1170.28 796.00H1179.05M1170.28 1140.80H1179.05" fill="none" stroke="#b3353b" stroke-width="6.90"/>
<path d="M481.20 792.55V801.20M1175.60 792.55V801.20M481.20 812.33V822.73M1175.60 812.33V822.73M481.20 833.86V844.26M1175.60 833.86V844.26M481.20 855.39V865.79M1175.60 855.39V865.79M481.20 876.92V887.32M1175.60 876.92V887.32M481.20 898.45V908.85M1175.60 898.45V908.85M481.20 919.98V930.38M1175.60 919.98V930.38M481.20 941.51V951.91M1175.60 941.51V951.91M481.20 963.04V973.44M1175.60 963.04V973.44M481.20 984.57V994.97M1175.60 984.57V994.97M481.20 1006.10V1016.50M1175.60 1006.10V1016.50M481.20 1027.63V1038.03M1175.60 1027.63V1038.03M481.20 1049.16V1059.56M1175.60 1049.16V1059.56M481.20 1070.69V1081.09M1175.60 1070.69V1081.09M481.20 1092.22V1102.62M1175.60 1092.22V1102.62M481.20 1113.75V1124.15M1175.60 1113.75V1124.15M481.20 1135.28V1144.25M1175.60 1135.28V1144.25" fill="none" stroke="#b3353b" stroke-width="6.90"/>
<text x="1119.0" y="1100.1" font-size="24" text-anchor="middle" font-weight="bold">Docking</text>
<text x="1119.0" y="1129.0" font-size="24" text-anchor="middle" font-weight="bold">module</text>
<text x="1302.0" y="871.5" font-size="24" text-anchor="middle">Denoised</text>
<text x="1302.0" y="901.5" font-size="24" text-anchor="middle">pair repr.</text>
<g stroke="#000" stroke-width="1.70">
<rect x="1246.6" y="912.6" width="113.9" height="112.8" fill="#fff" stroke="none"/>
<rect x="1246.60" y="912.60" width="14.24" height="14.10" fill="#5b92d2" stroke="none"/>
<rect x="1260.84" y="912.60" width="14.24" height="14.10" fill="#5b92d2" stroke="none"/>
<rect x="1275.08" y="912.60" width="14.24" height="14.10" fill="#5b92d2" stroke="none"/>
<rect x="1289.32" y="912.60" width="14.24" height="14.10" fill="#5b92d2" stroke="none"/>
<rect x="1303.56" y="912.60" width="14.24" height="14.10" fill="#5b92d2" stroke="none"/>
<rect x="1246.60" y="926.70" width="14.24" height="14.10" fill="#5b92d2" stroke="none"/>
<rect x="1260.84" y="926.70" width="14.24" height="14.10" fill="#5b92d2" stroke="none"/>
<rect x="1275.08" y="926.70" width="14.24" height="14.10" fill="#5b92d2" stroke="none"/>
<rect x="1289.32" y="926.70" width="14.24" height="14.10" fill="#5b92d2" stroke="none"/>
<rect x="1303.56" y="926.70" width="14.24" height="14.10" fill="#5b92d2" stroke="none"/>
<rect x="1246.60" y="940.80" width="14.24" height="14.10" fill="#5b92d2" stroke="none"/>
<rect x="1260.84" y="940.80" width="14.24" height="14.10" fill="#5b92d2" stroke="none"/>
<rect x="1275.08" y="940.80" width="14.24" height="14.10" fill="#5b92d2" stroke="none"/>
<rect x="1289.32" y="940.80" width="14.24" height="14.10" fill="#5b92d2" stroke="none"/>
<rect x="1303.56" y="940.80" width="14.24" height="14.10" fill="#5b92d2" stroke="none"/>
<rect x="1246.60" y="954.90" width="14.24" height="14.10" fill="#5b92d2" stroke="none"/>
<rect x="1260.84" y="954.90" width="14.24" height="14.10" fill="#5b92d2" stroke="none"/>
<rect x="1275.08" y="954.90" width="14.24" height="14.10" fill="#5b92d2" stroke="none"/>
<rect x="1289.32" y="954.90" width="14.24" height="14.10" fill="#5b92d2" stroke="none"/>
<rect x="1303.56" y="954.90" width="14.24" height="14.10" fill="#5b92d2" stroke="none"/>
<rect x="1246.60" y="969.00" width="14.24" height="14.10" fill="#5b92d2" stroke="none"/>
<rect x="1260.84" y="969.00" width="14.24" height="14.10" fill="#5b92d2" stroke="none"/>
<rect x="1275.08" y="969.00" width="14.24" height="14.10" fill="#5b92d2" stroke="none"/>
<rect x="1289.32" y="969.00" width="14.24" height="14.10" fill="#5b92d2" stroke="none"/>
<rect x="1303.56" y="969.00" width="14.24" height="14.10" fill="#5b92d2" stroke="none"/>
<rect x="1317.80" y="983.10" width="14.24" height="14.10" fill="#c46b60" stroke="none"/>
<rect x="1332.04" y="983.10" width="14.24" height="14.10" fill="#c46b60" stroke="none"/>
<rect x="1346.28" y="983.10" width="14.24" height="14.10" fill="#c46b60" stroke="none"/>
<rect x="1317.80" y="997.20" width="14.24" height="14.10" fill="#c46b60" stroke="none"/>
<rect x="1332.04" y="997.20" width="14.24" height="14.10" fill="#c46b60" stroke="none"/>
<rect x="1346.28" y="997.20" width="14.24" height="14.10" fill="#c46b60" stroke="none"/>
<rect x="1317.80" y="1011.30" width="14.24" height="14.10" fill="#c46b60" stroke="none"/>
<rect x="1332.04" y="1011.30" width="14.24" height="14.10" fill="#c46b60" stroke="none"/>
<rect x="1346.28" y="1011.30" width="14.24" height="14.10" fill="#c46b60" stroke="none"/>
<rect x="1332.04" y="926.70" width="14.24" height="14.10" fill="#a9aaac" stroke="none"/>
<rect x="1332.04" y="940.80" width="14.24" height="14.10" fill="#a9aaac" stroke="none"/>
<rect x="1332.04" y="954.90" width="14.24" height="14.10" fill="#a9aaac" stroke="none"/>
<rect x="1260.84" y="997.20" width="14.24" height="14.10" fill="#a9aaac" stroke="none"/>
<rect x="1275.08" y="997.20" width="14.24" height="14.10" fill="#a9aaac" stroke="none"/>
<rect x="1289.32" y="997.20" width="14.24" height="14.10" fill="#a9aaac" stroke="none"/>
<path d="M1246.60 912.60V1025.40M1260.84 912.60V1025.40M1275.08 912.60V1025.40M1289.32 912.60V1025.40M1303.56 912.60V1025.40M1317.80 912.60V1025.40M1332.04 912.60V1025.40M1346.28 912.60V1025.40M1360.52 912.60V1025.40M1246.60 912.60H1360.52M1246.60 926.70H1360.52M1246.60 940.80H1360.52M1246.60 954.90H1360.52M1246.60 969.00H1360.52M1246.60 983.10H1360.52M1246.60 997.20H1360.52M1246.60 1011.30H1360.52M1246.60 1025.40H1360.52" fill="none" stroke-linecap="square"/>
</g>
<text x="50.3" y="1167.3" font-size="34" font-weight="bold">(c)</text>
<text x="141.3" y="1205.5" font-size="24" text-anchor="middle">Noisy pair repr.</text>
<g stroke="#000" stroke-width="1.70">
<rect x="75.9" y="1218.6" width="113.9" height="113.2" fill="#fff" stroke="none"/>
<rect x="75.90" y="1218.60" width="14.24" height="14.15" fill="#5b92d2" stroke="none"/>
<rect x="90.14" y="1218.60" width="14.24" height="14.15" fill="#5b92d2" stroke="none"/>
<rect x="104.38" y="1218.60" width="14.24" height="14.15" fill="#5b92d2" stroke="none"/>
<rect x="118.62" y="1218.60" width="14.24" height="14.15" fill="#5b92d2" stroke="none"/>
<rect x="132.86" y="1218.60" width="14.24" height="14.15" fill="#5b92d2" stroke="none"/>
<rect x="75.90" y="1232.75" width="14.24" height="14.15" fill="#5b92d2" stroke="none"/>
<rect x="90.14" y="1232.75" width="14.24" height="14.15" fill="#5b92d2" stroke="none"/>
<rect x="104.38" y="1232.75" width="14.24" height="14.15" fill="#5b92d2" stroke="none"/>
<rect x="118.62" y="1232.75" width="14.24" height="14.15" fill="#5b92d2" stroke="none"/>
<rect x="132.86" y="1232.75" width="14.24" height="14.15" fill="#5b92d2" stroke="none"/>
<rect x="75.90" y="1246.90" width="14.24" height="14.15" fill="#5b92d2" stroke="none"/>
<rect x="90.14" y="1246.90" width="14.24" height="14.15" fill="#5b92d2" stroke="none"/>
<rect x="104.38" y="1246.90" width="14.24" height="14.15" fill="#5b92d2" stroke="none"/>
<rect x="118.62" y="1246.90" width="14.24" height="14.15" fill="#5b92d2" stroke="none"/>
<rect x="132.86" y="1246.90" width="14.24" height="14.15" fill="#5b92d2" stroke="none"/>
<rect x="75.90" y="1261.05" width="14.24" height="14.15" fill="#5b92d2" stroke="none"/>
<rect x="90.14" y="1261.05" width="14.24" height="14.15" fill="#5b92d2" stroke="none"/>
<rect x="104.38" y="1261.05" width="14.24" height="14.15" fill="#5b92d2" stroke="none"/>
<rect x="118.62" y="1261.05" width="14.24" height="14.15" fill="#5b92d2" stroke="none"/>
<rect x="132.86" y="1261.05" width="14.24" height="14.15" fill="#5b92d2" stroke="none"/>
<rect x="75.90" y="1275.20" width="14.24" height="14.15" fill="#5b92d2" stroke="none"/>
<rect x="90.14" y="1275.20" width="14.24" height="14.15" fill="#5b92d2" stroke="none"/>
<rect x="104.38" y="1275.20" width="14.24" height="14.15" fill="#5b92d2" stroke="none"/>
<rect x="118.62" y="1275.20" width="14.24" height="14.15" fill="#5b92d2" stroke="none"/>
<rect x="132.86" y="1275.20" width="14.24" height="14.15" fill="#5b92d2" stroke="none"/>
<rect x="147.10" y="1289.35" width="14.24" height="14.15" fill="#c46b60" stroke="none"/>
<rect x="161.34" y="1289.35" width="14.24" height="14.15" fill="#c46b60" stroke="none"/>
<rect x="175.58" y="1289.35" width="14.24" height="14.15" fill="#c46b60" stroke="none"/>
<rect x="147.10" y="1303.50" width="14.24" height="14.15" fill="#c46b60" stroke="none"/>
<rect x="161.34" y="1303.50" width="14.24" height="14.15" fill="#c46b60" stroke="none"/>
<rect x="175.58" y="1303.50" width="14.24" height="14.15" fill="#c46b60" stroke="none"/>
<rect x="147.10" y="1317.65" width="14.24" height="14.15" fill="#c46b60" stroke="none"/>
<rect x="161.34" y="1317.65" width="14.24" height="14.15" fill="#c46b60" stroke="none"/>
<rect x="175.58" y="1317.65" width="14.24" height="14.15" fill="#c46b60" stroke="none"/>
<rect x="175.58" y="1232.75" width="14.24" height="14.15" fill="#d2d2d2" stroke="none"/>
<rect x="161.34" y="1246.90" width="14.24" height="14.15" fill="#dedede" stroke="none"/>
<rect x="175.58" y="1246.90" width="14.24" height="14.15" fill="#cacaca" stroke="none"/>
<rect x="104.38" y="1303.50" width="14.24" height="14.15" fill="#dcdcdc" stroke="none"/>
<rect x="90.14" y="1317.65" width="14.24" height="14.15" fill="#d0d0d0" stroke="none"/>
<rect x="104.38" y="1317.65" width="14.24" height="14.15" fill="#c4c4c4" stroke="none"/>
<path d="M75.90 1218.60V1331.80M90.14 1218.60V1331.80M104.38 1218.60V1331.80M118.62 1218.60V1331.80M132.86 1218.60V1331.80M147.10 1218.60V1331.80M161.34 1218.60V1331.80M175.58 1218.60V1331.80M189.82 1218.60V1331.80M75.90 1218.60H189.82M75.90 1232.75H189.82M75.90 1246.90H189.82M75.90 1261.05H189.82M75.90 1275.20H189.82M75.90 1289.35H189.82M75.90 1303.50H189.82M75.90 1317.65H189.82M75.90 1331.80H189.82" fill="none" stroke-linecap="square"/>
</g>
<text x="137.5" y="1364.9" font-size="24" text-anchor="middle">Pair cond.</text>
<g stroke="#000" stroke-width="1.70">
<rect x="75.9" y="1376.5" width="113.9" height="113.2" fill="#fff" stroke="none"/>
<rect x="75.90" y="1376.50" width="14.24" height="14.15" fill="#6a9bd8" stroke="none"/>
<rect x="90.14" y="1376.50" width="14.24" height="14.15" fill="#6a9bd8" stroke="none"/>
<rect x="104.38" y="1376.50" width="14.24" height="14.15" fill="#6a9bd8" stroke="none"/>
<rect x="118.62" y="1376.50" width="14.24" height="14.15" fill="#6a9bd8" stroke="none"/>
<rect x="132.86" y="1376.50" width="14.24" height="14.15" fill="#6a9bd8" stroke="none"/>
<rect x="147.10" y="1376.50" width="14.24" height="14.15" fill="#dfdfdf" stroke="none"/>
<rect x="161.34" y="1376.50" width="14.24" height="14.15" fill="#dfdfdf" stroke="none"/>
<rect x="175.58" y="1376.50" width="14.24" height="14.15" fill="#dfdfdf" stroke="none"/>
<rect x="75.90" y="1390.65" width="14.24" height="14.15" fill="#6a9bd8" stroke="none"/>
<rect x="90.14" y="1390.65" width="14.24" height="14.15" fill="#6a9bd8" stroke="none"/>
<rect x="104.38" y="1390.65" width="14.24" height="14.15" fill="#6a9bd8" stroke="none"/>
<rect x="118.62" y="1390.65" width="14.24" height="14.15" fill="#6a9bd8" stroke="none"/>
<rect x="132.86" y="1390.65" width="14.24" height="14.15" fill="#6a9bd8" stroke="none"/>
<rect x="147.10" y="1390.65" width="14.24" height="14.15" fill="#dfdfdf" stroke="none"/>
<rect x="161.34" y="1390.65" width="14.24" height="14.15" fill="#b9b9b9" stroke="none"/>
<rect x="175.58" y="1390.65" width="14.24" height="14.15" fill="#dfdfdf" stroke="none"/>
<rect x="75.90" y="1404.80" width="14.24" height="14.15" fill="#6a9bd8" stroke="none"/>
<rect x="90.14" y="1404.80" width="14.24" height="14.15" fill="#6a9bd8" stroke="none"/>
<rect x="104.38" y="1404.80" width="14.24" height="14.15" fill="#6a9bd8" stroke="none"/>
<rect x="118.62" y="1404.80" width="14.24" height="14.15" fill="#6a9bd8" stroke="none"/>
<rect x="132.86" y="1404.80" width="14.24" height="14.15" fill="#6a9bd8" stroke="none"/>
<rect x="147.10" y="1404.80" width="14.24" height="14.15" fill="#dfdfdf" stroke="none"/>
<rect x="161.34" y="1404.80" width="14.24" height="14.15" fill="#c9c9c9" stroke="none"/>
<rect x="175.58" y="1404.80" width="14.24" height="14.15" fill="#dfdfdf" stroke="none"/>
<rect x="75.90" y="1418.95" width="14.24" height="14.15" fill="#6a9bd8" stroke="none"/>
<rect x="90.14" y="1418.95" width="14.24" height="14.15" fill="#6a9bd8" stroke="none"/>
<rect x="104.38" y="1418.95" width="14.24" height="14.15" fill="#6a9bd8" stroke="none"/>
<rect x="118.62" y="1418.95" width="14.24" height="14.15" fill="#6a9bd8" stroke="none"/>
<rect x="132.86" y="1418.95" width="14.24" height="14.15" fill="#6a9bd8" stroke="none"/>
<rect x="147.10" y="1418.95" width="14.24" height="14.15" fill="#dfdfdf" stroke="none"/>
<rect x="161.34" y="1418.95" width="14.24" height="14.15" fill="#a9a9a9" stroke="none"/>
<rect x="175.58" y="1418.95" width="14.24" height="14.15" fill="#dfdfdf" stroke="none"/>
<rect x="75.90" y="1433.10" width="14.24" height="14.15" fill="#6a9bd8" stroke="none"/>
<rect x="90.14" y="1433.10" width="14.24" height="14.15" fill="#6a9bd8" stroke="none"/>
<rect x="104.38" y="1433.10" width="14.24" height="14.15" fill="#6a9bd8" stroke="none"/>
<rect x="118.62" y="1433.10" width="14.24" height="14.15" fill="#6a9bd8" stroke="none"/>
<rect x="132.86" y="1433.10" width="14.24" height="14.15" fill="#6a9bd8" stroke="none"/>
<rect x="147.10" y="1433.10" width="14.24" height="14.15" fill="#dfdfdf" stroke="none"/>
<rect x="161.34" y="1433.10" width="14.24" height="14.15" fill="#dfdfdf" stroke="none"/>
<rect x="175.58" y="1433.10" width="14.24" height="14.15" fill="#dfdfdf" stroke="none"/>
<rect x="75.90" y="1447.25" width="14.24" height="14.15" fill="#dfdfdf" stroke="none"/>
<rect x="90.14" y="1447.25" width="14.24" height="14.15" fill="#dfdfdf" stroke="none"/>
<rect x="104.38" y="1447.25" width="14.24" height="14.15" fill="#dfdfdf" stroke="none"/>
<rect x="118.62" y="1447.25" width="14.24" height="14.15" fill="#dfdfdf" stroke="none"/>
<rect x="132.86" y="1447.25" width="14.24" height="14.15" fill="#dfdfdf" stroke="none"/>
<rect x="147.10" y="1447.25" width="14.24" height="14.15" fill="#c9796d" stroke="none"/>
<rect x="161.34" y="1447.25" width="14.24" height="14.15" fill="#c9796d" stroke="none"/>
<rect x="175.58" y="1447.25" width="14.24" height="14.15" fill="#c9796d" stroke="none"/>
<rect x="75.90" y="1461.40" width="14.24" height="14.15" fill="#dfdfdf" stroke="none"/>
<rect x="90.14" y="1461.40" width="14.24" height="14.15" fill="#b2b2b2" stroke="none"/>
<rect x="104.38" y="1461.40" width="14.24" height="14.15" fill="#c4c4c4" stroke="none"/>
<rect x="118.62" y="1461.40" width="14.24" height="14.15" fill="#a9a9a9" stroke="none"/>
<rect x="132.86" y="1461.40" width="14.24" height="14.15" fill="#dfdfdf" stroke="none"/>
<rect x="147.10" y="1461.40" width="14.24" height="14.15" fill="#c9796d" stroke="none"/>
<rect x="161.34" y="1461.40" width="14.24" height="14.15" fill="#c9796d" stroke="none"/>
<rect x="175.58" y="1461.40" width="14.24" height="14.15" fill="#c9796d" stroke="none"/>
<rect x="75.90" y="1475.55" width="14.24" height="14.15" fill="#dfdfdf" stroke="none"/>
<rect x="90.14" y="1475.55" width="14.24" height="14.15" fill="#dfdfdf" stroke="none"/>
<rect x="104.38" y="1475.55" width="14.24" height="14.15" fill="#dfdfdf" stroke="none"/>
<rect x="118.62" y="1475.55" width="14.24" height="14.15" fill="#dfdfdf" stroke="none"/>
<rect x="132.86" y="1475.55" width="14.24" height="14.15" fill="#dfdfdf" stroke="none"/>
<rect x="147.10" y="1475.55" width="14.24" height="14.15" fill="#c9796d" stroke="none"/>
<rect x="161.34" y="1475.55" width="14.24" height="14.15" fill="#c9796d" stroke="none"/>
<rect x="175.58" y="1475.55" width="14.24" height="14.15" fill="#c9796d" stroke="none"/>
<path d="M75.90 1376.50V1489.70M90.14 1376.50V1489.70M104.38 1376.50V1489.70M118.62 1376.50V1489.70M132.86 1376.50V1489.70M147.10 1376.50V1489.70M161.34 1376.50V1489.70M175.58 1376.50V1489.70M189.82 1376.50V1489.70M75.90 1376.50H189.82M75.90 1390.65H189.82M75.90 1404.80H189.82M75.90 1418.95H189.82M75.90 1433.10H189.82M75.90 1447.25H189.82M75.90 1461.40H189.82M75.90 1475.55H189.82M75.90 1489.70H189.82" fill="none" stroke-linecap="square"/>
</g>
<path d="M201.3 1271.7L281.0 1271.7" fill="none" stroke="#000" stroke-width="3.75"/>
<path d="M290.3 1271.7L278.7 1264.8L278.7 1278.6 Z" fill="#000"/>
<rect x="293.3" y="1212.4" width="94.2" height="118.7" fill="#fff" stroke="#000" stroke-width="1.7"/>
<path d="M390.5 1271.7L412.8 1271.7" fill="none" stroke="#000" stroke-width="3.75"/>
<path d="M262.5 1271.7L262.5 1201.0L428.8 1201.0L428.8 1245.2" fill="none" stroke="#000" stroke-width="3.75"/>
<path d="M428.8 1254.5L421.9 1242.9L435.7 1242.9 Z" fill="#000"/>
<circle cx="428.8" cy="1271.7" r="17.3" fill="#fff" stroke="#000" stroke-width="1.9"/>
<path d="M419.3 1271.7H438.3M428.8 1262.2V1281.2" stroke="#000" stroke-width="2.8" fill="none"/>
<path d="M445.8 1271.7L468.7 1271.7" fill="none" stroke="#000" stroke-width="3.75"/>
<path d="M478.0 1271.7L466.4 1264.8L466.4 1278.6 Z" fill="#000"/>
<rect x="481.0" y="1215.9" width="94.8" height="118.9" fill="#fff" stroke="#000" stroke-width="1.7"/>
<path d="M578.8 1271.7L601.0 1271.7" fill="none" stroke="#000" stroke-width="3.75"/>
<path d="M450.8 1271.7L450.8 1201.0L617.0 1201.0L617.0 1245.2" fill="none" stroke="#000" stroke-width="3.75"/>
<path d="M617.0 1254.5L610.1 1242.9L623.9 1242.9 Z" fill="#000"/>
<circle cx="617.0" cy="1271.7" r="17.3" fill="#fff" stroke="#000" stroke-width="1.9"/>
<path d="M607.5 1271.7H626.5M617.0 1262.2V1281.2" stroke="#000" stroke-width="2.8" fill="none"/>
<path d="M634.0 1271.7L656.9 1271.7" fill="none" stroke="#000" stroke-width="3.75"/>
<path d="M666.2 1271.7L654.6 1264.8L654.6 1278.6 Z" fill="#000"/>
<rect x="669.2" y="1215.9" width="94.8" height="118.9" fill="#fff" stroke="#000" stroke-width="1.7"/>
<path d="M767.0 1271.7L789.1 1271.7" fill="none" stroke="#000" stroke-width="3.75"/>
<path d="M639.0 1271.7L639.0 1201.0L805.1 1201.0L805.1 1245.2" fill="none" stroke="#000" stroke-width="3.75"/>
<path d="M805.1 1254.5L798.2 1242.9L812.0 1242.9 Z" fill="#000"/>
<circle cx="805.1" cy="1271.7" r="17.3" fill="#fff" stroke="#000" stroke-width="1.9"/>
<path d="M795.6 1271.7H814.6M805.1 1262.2V1281.2" stroke="#000" stroke-width="2.8" fill="none"/>
<path d="M822.1 1271.7L845.6 1271.7" fill="none" stroke="#000" stroke-width="3.75"/>
<path d="M854.9 1271.7L843.3 1264.8L843.3 1278.6 Z" fill="#000"/>
<rect x="857.9" y="1215.9" width="93.6" height="118.9" fill="#fff" stroke="#000" stroke-width="1.7"/>
<path d="M954.5 1271.7L976.9 1271.7" fill="none" stroke="#000" stroke-width="3.75"/>
<path d="M826.5 1271.7L826.5 1201.0L992.9 1201.0L992.9 1245.2" fill="none" stroke="#000" stroke-width="3.75"/>
<path d="M992.9 1254.5L986.0 1242.9L999.8 1242.9 Z" fill="#000"/>
<circle cx="992.9" cy="1271.7" r="17.3" fill="#fff" stroke="#000" stroke-width="1.9"/>
<path d="M983.4 1271.7H1002.4M992.9 1262.2V1281.2" stroke="#000" stroke-width="2.8" fill="none"/>
<path d="M1009.9 1271.7L1033.7 1271.7" fill="none" stroke="#000" stroke-width="3.75"/>
<path d="M1043.0 1271.7L1031.4 1264.8L1031.4 1278.6 Z" fill="#000"/>
<rect x="1046.0" y="1215.9" width="94.3" height="118.9" fill="#fff" stroke="#000" stroke-width="1.7"/>
<path d="M1143.3 1271.7L1165.3 1271.7" fill="none" stroke="#000" stroke-width="3.75"/>
<path d="M1014.7 1271.7L1014.7 1201.0L1181.3 1201.0L1181.3 1245.2" fill="none" stroke="#000" stroke-width="3.75"/>
<path d="M1181.3 1254.5L1174.4 1242.9L1188.2 1242.9 Z" fill="#000"/>
<circle cx="1181.3" cy="1271.7" r="17.3" fill="#fff" stroke="#000" stroke-width="1.9"/>
<path d="M1171.8 1271.7H1190.8M1181.3 1262.2V1281.2" stroke="#000" stroke-width="2.8" fill="none"/>
<path d="M1198.3 1271.7L1243.7 1271.7" fill="none" stroke="#000" stroke-width="3.75"/>
<path d="M1253.0 1271.7L1241.4 1264.8L1241.4 1278.6 Z" fill="#000"/>
<path d="M230.70 1186.10H238.00M230.70 1358.50H238.00M248.86 1186.10H259.06M248.86 1358.50H259.06M269.92 1186.10H280.12M269.92 1358.50H280.12M290.98 1186.10H301.18M290.98 1358.50H301.18M312.04 1186.10H322.24M312.04 1358.50H322.24M333.10 1186.10H343.30M333.10 1358.50H343.30M354.16 1186.10H364.36M354.16 1358.50H364.36M375.22 1186.10H385.42M375.22 1358.50H385.42M396.28 1186.10H406.48M396.28 1358.50H406.48M417.34 1186.10H427.54M417.34 1358.50H427.54M438.40 1186.10H448.60M438.40 1358.50H448.60M459.46 1186.10H469.66M459.46 1358.50H469.66M480.52 1186.10H490.72M480.52 1358.50H490.72M501.58 1186.10H511.78M501.58 1358.50H511.78M522.64 1186.10H532.84M522.64 1358.50H532.84M543.70 1186.10H553.90M543.70 1358.50H553.90M564.76 1186.10H574.96M564.76 1358.50H574.96M585.82 1186.10H596.02M585.82 1358.50H596.02M606.88 1186.10H617.08M606.88 1358.50H617.08M627.94 1186.10H638.14M627.94 1358.50H638.14M649.00 1186.10H659.20M649.00 1358.50H659.20M670.06 1186.10H680.26M670.06 1358.50H680.26M691.12 1186.10H701.32M691.12 1358.50H701.32M712.18 1186.10H722.38M712.18 1358.50H722.38M733.24 1186.10H743.44M733.24 1358.50H743.44M754.30 1186.10H764.50M754.30 1358.50H764.50M775.36 1186.10H785.56M775.36 1358.50H785.56M796.42 1186.10H806.62M796.42 1358.50H806.62M817.48 1186.10H827.68M817.48 1358.50H827.68M838.54 1186.10H848.74M838.54 1358.50H848.74M859.60 1186.10H869.80M859.60 1358.50H869.80M880.66 1186.10H890.86M880.66 1358.50H890.86M901.72 1186.10H911.92M901.72 1358.50H911.92M922.78 1186.10H932.98M922.78 1358.50H932.98M943.84 1186.10H954.04M943.84 1358.50H954.04M964.90 1186.10H975.10M964.90 1358.50H975.10M985.96 1186.10H996.16M985.96 1358.50H996.16M1007.02 1186.10H1017.22M1007.02 1358.50H1017.22M1028.08 1186.10H1038.28M1028.08 1358.50H1038.28M1049.14 1186.10H1059.34M1049.14 1358.50H1059.34M1070.20 1186.10H1080.40M1070.20 1358.50H1080.40M1091.26 1186.10H1101.46M1091.26 1358.50H1101.46M1112.32 1186.10H1122.52M1112.32 1358.50H1122.52M1133.38 1186.10H1143.58M1133.38 1358.50H1143.58M1154.44 1186.10H1164.64M1154.44 1358.50H1164.64M1175.50 1186.10H1185.70M1175.50 1358.50H1185.70M1196.56 1186.10H1206.76M1196.56 1358.50H1206.76M1217.62 1186.10H1225.35M1217.62 1358.50H1225.35" fill="none" stroke="#9a9a9a" stroke-width="4.70"/>
<path d="M233.05 1183.75V1191.10M1223.00 1183.75V1191.10M233.05 1202.33V1212.63M1223.00 1202.33V1212.63M233.05 1223.86V1234.16M1223.00 1223.86V1234.16M233.05 1245.39V1255.69M1223.00 1245.39V1255.69M233.05 1266.92V1277.22M1223.00 1266.92V1277.22M233.05 1288.45V1298.75M1223.00 1288.45V1298.75M233.05 1309.98V1320.28M1223.00 1309.98V1320.28M233.05 1331.51V1341.81M1223.00 1331.51V1341.81M233.05 1353.04V1360.85M1223.00 1353.04V1360.85" fill="none" stroke="#9a9a9a" stroke-width="4.70"/>
<path d="M201.0 1433.2L1155.4 1433.2" fill="none" stroke="#b8695f" stroke-width="3.50"/>
<path d="M647.8 1434.9L647.8 1281.3" fill="none" stroke="#b8695f" stroke-width="3.60"/>
<path d="M647.8 1271.9L641.1 1283.7L654.5 1283.7 Z" fill="#b8695f"/>
<path d="M776.9 1434.9L776.9 1281.3" fill="none" stroke="#b8695f" stroke-width="3.60"/>
<path d="M776.9 1271.9L770.2 1283.7L783.6 1283.7 Z" fill="#b8695f"/>
<path d="M836.2 1434.9L836.2 1281.3" fill="none" stroke="#b8695f" stroke-width="3.60"/>
<path d="M836.2 1271.9L829.5 1283.7L842.9 1283.7 Z" fill="#b8695f"/>
<path d="M965.0 1434.9L965.0 1281.3" fill="none" stroke="#b8695f" stroke-width="3.60"/>
<path d="M965.0 1271.9L958.3 1283.7L971.7 1283.7 Z" fill="#b8695f"/>
<path d="M1023.0 1434.9L1023.0 1281.3" fill="none" stroke="#b8695f" stroke-width="3.60"/>
<path d="M1023.0 1271.9L1016.3 1283.7L1029.7 1283.7 Z" fill="#b8695f"/>
<path d="M1153.6 1434.9L1153.6 1281.3" fill="none" stroke="#b8695f" stroke-width="3.60"/>
<path d="M1153.6 1271.9L1146.9 1283.7L1160.3 1283.7 Z" fill="#b8695f"/>
<text x="340.4" y="1240.3" font-size="20.5" text-anchor="middle">Triangle</text>
<text x="340.4" y="1265.2" font-size="20.5" text-anchor="middle">update</text>
<text x="340.4" y="1290.1" font-size="20.5" text-anchor="middle">(outgoing</text>
<text x="340.4" y="1315.0" font-size="20.5" text-anchor="middle">edges)</text>
<text x="528.3" y="1243.8" font-size="20.5" text-anchor="middle">Triangle</text>
<text x="528.3" y="1268.7" font-size="20.5" text-anchor="middle">update</text>
<text x="528.3" y="1293.6" font-size="20.5" text-anchor="middle">(incoming</text>
<text x="528.3" y="1318.5" font-size="20.5" text-anchor="middle">edges)</text>
<text x="716.5" y="1245.2" font-size="20.5" text-anchor="middle">Triangle</text>
<text x="716.5" y="1270.1" font-size="20.5" text-anchor="middle">attention</text>
<text x="716.5" y="1295.0" font-size="20.5" text-anchor="middle">(starting</text>
<text x="716.5" y="1319.9" font-size="20.5" text-anchor="middle">node)</text>
<text x="904.6" y="1245.2" font-size="20.5" text-anchor="middle">Triangle</text>
<text x="904.6" y="1270.1" font-size="20.5" text-anchor="middle">attention</text>
<text x="904.6" y="1295.0" font-size="20.5" text-anchor="middle">(ending</text>
<text x="904.6" y="1319.9" font-size="20.5" text-anchor="middle">node)</text>
<text x="1093.0" y="1269.4" font-size="20.5" text-anchor="middle">Pair</text>
<text x="1093.0" y="1294.3" font-size="20.5" text-anchor="middle">Transition</text>
<text x="1197.5" y="1349.0" font-size="20.5" text-anchor="middle">x 4</text>
<text x="772.3" y="1400.0" font-size="20.5" text-anchor="end">Scale</text>
<text x="772.3" y="1424.6" font-size="20.5" text-anchor="end">(zero-init)</text>
<text x="959.5" y="1400.0" font-size="20.5" text-anchor="end">Scale</text>
<text x="959.5" y="1424.6" font-size="20.5" text-anchor="end">(zero-init)</text>
<text x="1149.3" y="1400.0" font-size="20.5" text-anchor="end">Scale</text>
<text x="1149.3" y="1424.6" font-size="20.5" text-anchor="end">(zero-init)</text>
<text x="648.0" y="1455.0" font-size="20.5" text-anchor="middle">Scale</text>
<text x="648.0" y="1480.0" font-size="20.5" text-anchor="middle">and shift</text>
<text x="834.5" y="1455.0" font-size="20.5" text-anchor="middle">Scale</text>
<text x="834.5" y="1480.0" font-size="20.5" text-anchor="middle">and shift</text>
<text x="1023.0" y="1455.0" font-size="20.5" text-anchor="middle">Scale</text>
<text x="1023.0" y="1480.0" font-size="20.5" text-anchor="middle">and shift</text>
<text x="1321.0" y="1180.0" font-size="24" text-anchor="middle">Denoised</text>
<text x="1321.0" y="1210.0" font-size="24" text-anchor="middle">pair repr.</text>
<g stroke="#000" stroke-width="1.70">
<rect x="1264.2" y="1218.6" width="113.9" height="113.2" fill="#fff" stroke="none"/>
<rect x="1264.20" y="1218.60" width="14.24" height="14.15" fill="#5b92d2" stroke="none"/>
<rect x="1278.44" y="1218.60" width="14.24" height="14.15" fill="#5b92d2" stroke="none"/>
<rect x="1292.68" y="1218.60" width="14.24" height="14.15" fill="#5b92d2" stroke="none"/>
<rect x="1306.92" y="1218.60" width="14.24" height="14.15" fill="#5b92d2" stroke="none"/>
<rect x="1321.16" y="1218.60" width="14.24" height="14.15" fill="#5b92d2" stroke="none"/>
<rect x="1264.20" y="1232.75" width="14.24" height="14.15" fill="#5b92d2" stroke="none"/>
<rect x="1278.44" y="1232.75" width="14.24" height="14.15" fill="#5b92d2" stroke="none"/>
<rect x="1292.68" y="1232.75" width="14.24" height="14.15" fill="#5b92d2" stroke="none"/>
<rect x="1306.92" y="1232.75" width="14.24" height="14.15" fill="#5b92d2" stroke="none"/>
<rect x="1321.16" y="1232.75" width="14.24" height="14.15" fill="#5b92d2" stroke="none"/>
<rect x="1264.20" y="1246.90" width="14.24" height="14.15" fill="#5b92d2" stroke="none"/>
<rect x="1278.44" y="1246.90" width="14.24" height="14.15" fill="#5b92d2" stroke="none"/>
<rect x="1292.68" y="1246.90" width="14.24" height="14.15" fill="#5b92d2" stroke="none"/>
<rect x="1306.92" y="1246.90" width="14.24" height="14.15" fill="#5b92d2" stroke="none"/>
<rect x="1321.16" y="1246.90" width="14.24" height="14.15" fill="#5b92d2" stroke="none"/>
<rect x="1264.20" y="1261.05" width="14.24" height="14.15" fill="#5b92d2" stroke="none"/>
<rect x="1278.44" y="1261.05" width="14.24" height="14.15" fill="#5b92d2" stroke="none"/>
<rect x="1292.68" y="1261.05" width="14.24" height="14.15" fill="#5b92d2" stroke="none"/>
<rect x="1306.92" y="1261.05" width="14.24" height="14.15" fill="#5b92d2" stroke="none"/>
<rect x="1321.16" y="1261.05" width="14.24" height="14.15" fill="#5b92d2" stroke="none"/>
<rect x="1264.20" y="1275.20" width="14.24" height="14.15" fill="#5b92d2" stroke="none"/>
<rect x="1278.44" y="1275.20" width="14.24" height="14.15" fill="#5b92d2" stroke="none"/>
<rect x="1292.68" y="1275.20" width="14.24" height="14.15" fill="#5b92d2" stroke="none"/>
<rect x="1306.92" y="1275.20" width="14.24" height="14.15" fill="#5b92d2" stroke="none"/>
<rect x="1321.16" y="1275.20" width="14.24" height="14.15" fill="#5b92d2" stroke="none"/>
<rect x="1335.40" y="1289.35" width="14.24" height="14.15" fill="#c46b60" stroke="none"/>
<rect x="1349.64" y="1289.35" width="14.24" height="14.15" fill="#c46b60" stroke="none"/>
<rect x="1363.88" y="1289.35" width="14.24" height="14.15" fill="#c46b60" stroke="none"/>
<rect x="1335.40" y="1303.50" width="14.24" height="14.15" fill="#c46b60" stroke="none"/>
<rect x="1349.64" y="1303.50" width="14.24" height="14.15" fill="#c46b60" stroke="none"/>
<rect x="1363.88" y="1303.50" width="14.24" height="14.15" fill="#c46b60" stroke="none"/>
<rect x="1335.40" y="1317.65" width="14.24" height="14.15" fill="#c46b60" stroke="none"/>
<rect x="1349.64" y="1317.65" width="14.24" height="14.15" fill="#c46b60" stroke="none"/>
<rect x="1363.88" y="1317.65" width="14.24" height="14.15" fill="#c46b60" stroke="none"/>
<rect x="1349.64" y="1232.75" width="14.24" height="14.15" fill="#a9aaac" stroke="none"/>
<rect x="1349.64" y="1246.90" width="14.24" height="14.15" fill="#a9aaac" stroke="none"/>
<rect x="1349.64" y="1261.05" width="14.24" height="14.15" fill="#a9aaac" stroke="none"/>
<rect x="1278.44" y="1303.50" width="14.24" height="14.15" fill="#a9aaac" stroke="none"/>
<rect x="1292.68" y="1303.50" width="14.24" height="14.15" fill="#a9aaac" stroke="none"/>
<rect x="1306.92" y="1303.50" width="14.24" height="14.15" fill="#a9aaac" stroke="none"/>
<path d="M1264.20 1218.60V1331.80M1278.44 1218.60V1331.80M1292.68 1218.60V1331.80M1306.92 1218.60V1331.80M1321.16 1218.60V1331.80M1335.40 1218.60V1331.80M1349.64 1218.60V1331.80M1363.88 1218.60V1331.80M1378.12 1218.60V1331.80M1264.20 1218.60H1378.12M1264.20 1232.75H1378.12M1264.20 1246.90H1378.12M1264.20 1261.05H1378.12M1264.20 1275.20H1378.12M1264.20 1289.35H1378.12M1264.20 1303.50H1378.12M1264.20 1317.65H1378.12M1264.20 1331.80H1378.12" fill="none" stroke-linecap="square"/>
</g>
</svg></body></html>
